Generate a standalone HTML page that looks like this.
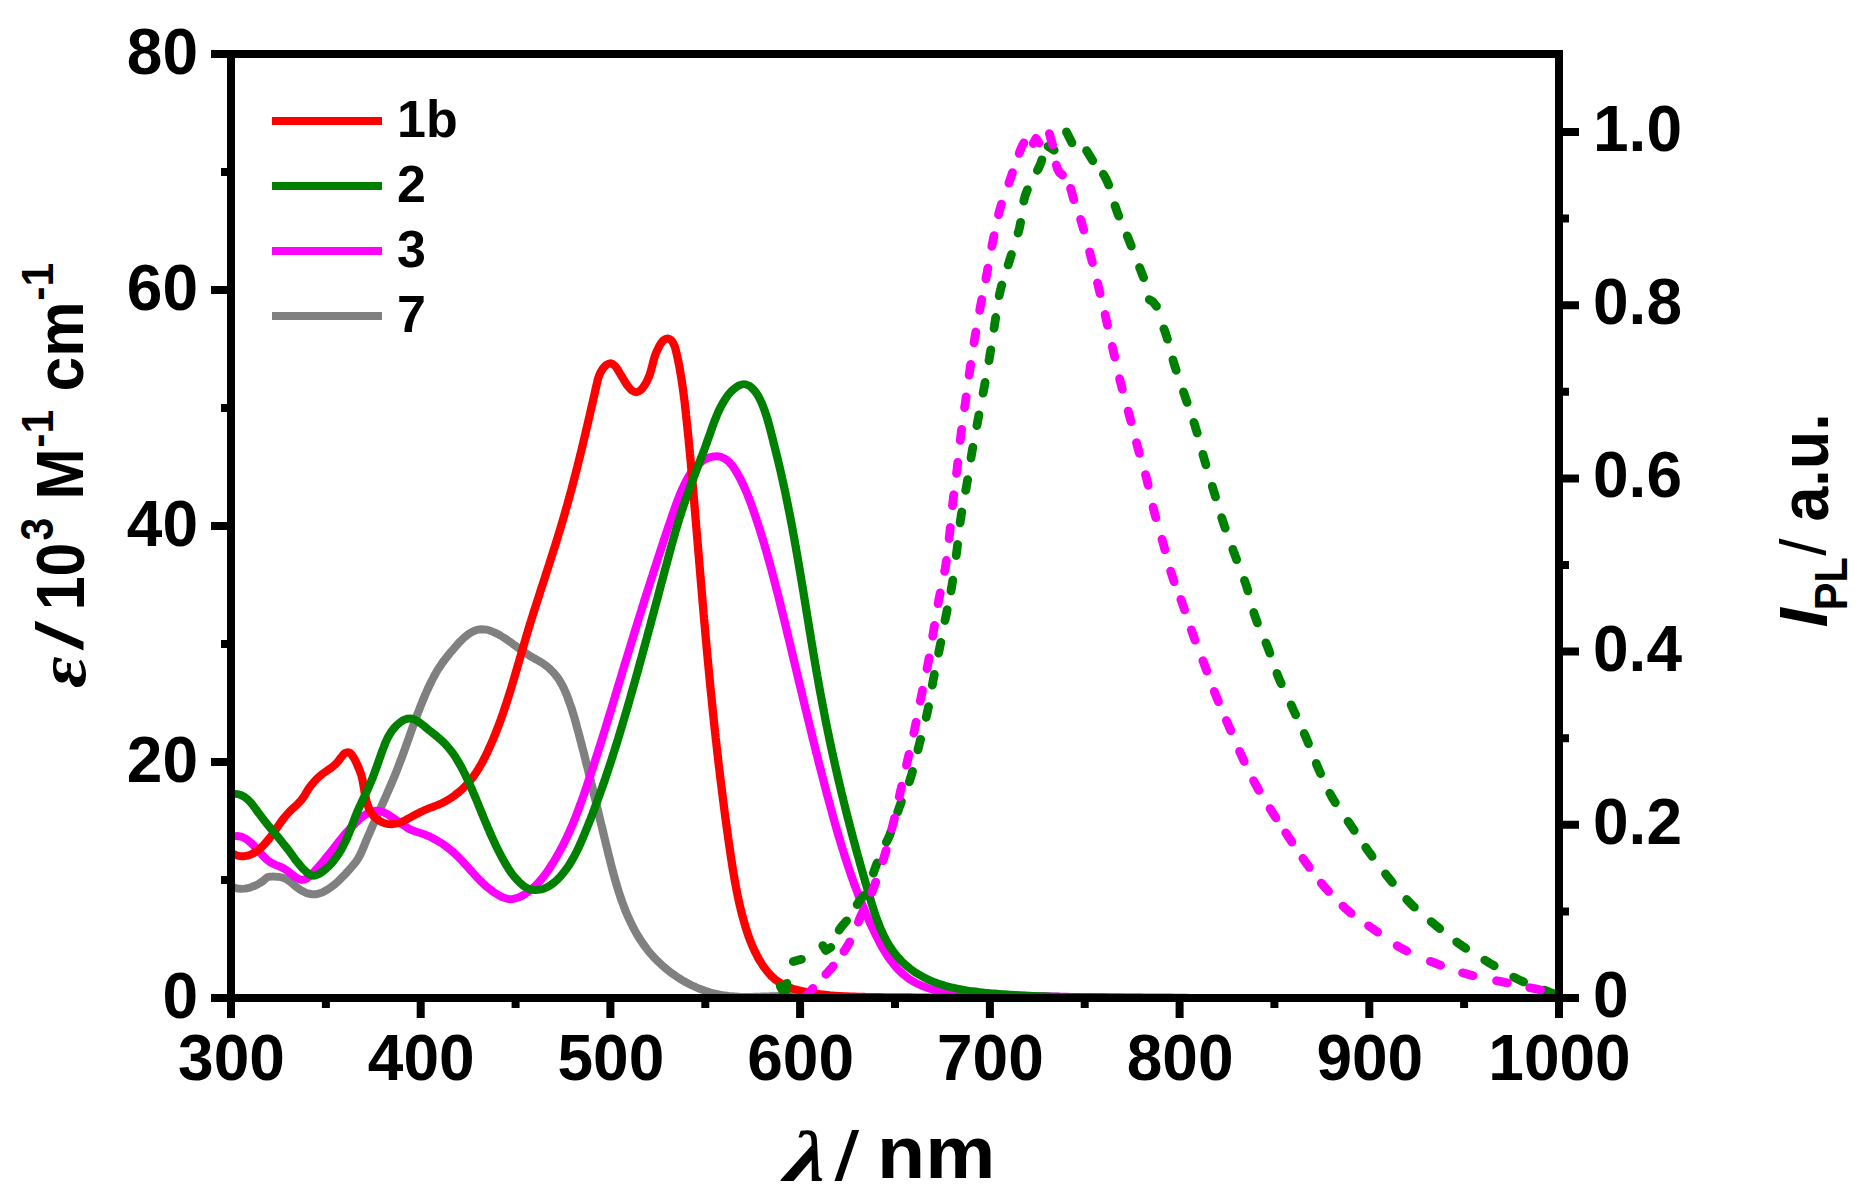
<!DOCTYPE html>
<html lang="en"><head><meta charset="utf-8"><title>Absorption and emission spectra</title>
<style>html,body{margin:0;padding:0;background:#fff}body{width:1864px;height:1203px;overflow:hidden}svg{display:block}text{font-family:"Liberation Sans",Arial,sans-serif;font-weight:bold;fill:#000}.gk{font-family:"Liberation Serif","DejaVu Serif",serif;font-style:italic;font-weight:bold}.it{font-style:italic}</style></head><body>
<svg width="1864" height="1203" viewBox="0 0 1864 1203">
<rect width="1864" height="1203" fill="#fff"/>
<defs><clipPath id="plotclip"><rect x="231" y="54" width="1328" height="944"/></clipPath></defs>
<g clip-path="url(#plotclip)"><g transform="scale(1.05 1)" fill="none" stroke-width="7.9" stroke-linejoin="miter" stroke-linecap="butt">
<path stroke="#808080" d="M220.0 886.0C220.7 886.3 222.9 887.5 224.4 888.0C225.9 888.5 227.5 888.7 229.1 888.8C230.7 888.9 232.3 888.8 233.8 888.5C235.4 888.3 237.0 887.9 238.5 887.4C240.0 886.9 241.5 886.3 242.9 885.6C244.4 884.9 245.8 884.1 247.2 883.2C248.5 882.4 249.9 881.4 251.1 880.4C252.4 879.4 253.4 877.9 254.8 877.2C256.2 876.6 257.9 876.5 259.5 876.5C261.0 876.4 262.6 876.6 264.2 876.8C265.8 877.0 267.4 877.1 268.9 877.6C270.5 878.0 272.0 878.7 273.3 879.5C274.7 880.3 275.9 881.4 277.2 882.5C278.4 883.5 279.6 884.7 280.8 885.7C282.1 886.8 283.3 887.9 284.6 888.8C285.9 889.8 287.2 890.7 288.7 891.4C290.1 892.2 291.5 892.9 293.1 893.4C294.6 893.8 296.2 894.2 297.7 894.3C299.3 894.3 300.9 894.2 302.5 893.8C304.0 893.5 305.6 892.9 307.0 892.3C308.5 891.6 309.9 890.8 311.3 889.9C312.6 889.1 313.9 888.1 315.2 887.2C316.5 886.2 317.8 885.2 319.0 884.1C320.2 883.0 321.4 881.9 322.6 880.7C323.7 879.6 324.9 878.4 326.0 877.2C327.1 876.0 328.2 874.8 329.3 873.6C330.3 872.4 331.4 871.1 332.5 869.9C333.5 868.6 334.6 867.4 335.6 866.1C336.7 864.8 337.7 863.6 338.7 862.2C339.6 860.9 340.5 859.5 341.3 858.1C342.2 856.6 342.9 855.1 343.6 853.6C344.2 852.1 344.8 850.6 345.5 849.0C346.1 847.5 346.7 845.9 347.3 844.4C347.9 842.8 348.5 841.3 349.1 839.8C349.7 838.2 350.4 836.7 351.0 835.1C351.6 833.6 352.3 832.1 352.9 830.6C353.5 829.0 354.2 827.5 354.8 826.0C355.5 824.4 356.1 822.9 356.8 821.4C357.4 819.9 358.1 818.3 358.7 816.8C359.4 815.3 360.0 813.8 360.7 812.2C361.3 810.7 362.0 809.2 362.7 807.7C363.3 806.1 364.0 804.6 364.6 803.1C365.3 801.6 365.9 800.0 366.6 798.5C367.2 797.0 367.9 795.4 368.5 793.9C369.1 792.4 369.8 790.9 370.4 789.3C371.0 787.8 371.7 786.2 372.3 784.7C372.9 783.2 373.6 781.6 374.2 780.1C374.8 778.5 375.4 777.0 376.0 775.5C376.6 773.9 377.2 772.4 377.8 770.8C378.4 769.3 379.0 767.7 379.5 766.1C380.1 764.6 380.7 763.0 381.2 761.4C381.8 759.9 382.4 758.3 382.9 756.7C383.5 755.2 384.0 753.6 384.6 752.0C385.1 750.5 385.6 748.9 386.2 747.3C386.7 745.7 387.3 744.2 387.8 742.6C388.3 741.0 388.9 739.4 389.4 737.9C389.9 736.3 390.5 734.7 391.0 733.1C391.5 731.6 392.1 730.0 392.6 728.4C393.1 726.8 393.7 725.3 394.2 723.7C394.8 722.1 395.3 720.6 395.9 719.0C396.4 717.4 397.0 715.9 397.5 714.3C398.1 712.7 398.7 711.2 399.3 709.6C399.8 708.0 400.4 706.5 401.0 704.9C401.6 703.4 402.2 701.8 402.8 700.3C403.4 698.7 404.0 697.2 404.6 695.7C405.3 694.1 405.9 692.6 406.5 691.1C407.2 689.5 407.8 688.0 408.5 686.5C409.2 685.0 409.9 683.5 410.6 682.0C411.3 680.5 412.0 679.0 412.8 677.5C413.5 676.0 414.3 674.6 415.1 673.1C415.9 671.7 416.7 670.2 417.5 668.8C418.4 667.4 419.3 666.0 420.2 664.6C421.1 663.2 422.0 661.9 422.9 660.5C423.9 659.2 424.9 657.9 425.9 656.6C426.8 655.3 427.9 654.0 428.9 652.7C429.9 651.4 430.9 650.1 432.0 648.9C433.0 647.6 434.0 646.3 435.1 645.1C436.2 643.8 437.2 642.6 438.3 641.4C439.5 640.2 440.6 639.0 441.8 637.9C443.0 636.8 444.2 635.7 445.4 634.7C446.7 633.7 448.1 632.7 449.5 632.0C450.9 631.2 452.3 630.5 453.9 630.0C455.4 629.6 457.0 629.3 458.6 629.2C460.1 629.2 461.7 629.4 463.3 629.7C464.9 630.0 466.4 630.6 467.9 631.1C469.4 631.7 470.8 632.4 472.3 633.1C473.7 633.8 475.1 634.7 476.5 635.5C477.8 636.3 479.2 637.2 480.5 638.1C481.9 639.1 483.2 640.0 484.5 640.9C485.8 641.9 487.1 642.9 488.4 643.9C489.7 644.8 490.9 645.8 492.2 646.8C493.5 647.8 494.8 648.8 496.1 649.8C497.4 650.8 498.7 651.7 500.0 652.7C501.3 653.6 502.7 654.5 504.0 655.4C505.4 656.3 506.7 657.1 508.1 657.9C509.5 658.8 510.9 659.6 512.3 660.4C513.7 661.3 515.0 662.1 516.4 663.0C517.7 663.9 519.0 664.9 520.3 665.9C521.6 666.9 522.8 668.0 523.9 669.1C525.1 670.2 526.2 671.5 527.3 672.7C528.3 674.0 529.3 675.3 530.3 676.6C531.2 677.9 532.1 679.3 533.0 680.7C533.8 682.1 534.6 683.6 535.4 685.1C536.1 686.5 536.8 688.0 537.5 689.6C538.2 691.1 538.8 692.6 539.4 694.2C540.0 695.7 540.6 697.3 541.1 698.8C541.7 700.4 542.2 702.0 542.7 703.6C543.3 705.1 543.8 706.7 544.3 708.3C544.8 709.9 545.2 711.5 545.7 713.1C546.2 714.7 546.6 716.3 547.1 717.9C547.5 719.5 547.9 721.1 548.4 722.7C548.8 724.4 549.2 726.0 549.6 727.6C550.0 729.2 550.5 730.8 550.9 732.4C551.3 734.0 551.7 735.7 552.1 737.3C552.5 738.9 552.9 740.5 553.3 742.1C553.7 743.7 554.1 745.4 554.5 747.0C554.9 748.6 555.3 750.2 555.7 751.8C556.1 753.5 556.5 755.1 556.9 756.7C557.3 758.3 557.7 759.9 558.0 761.6C558.4 763.2 558.8 764.8 559.2 766.4C559.6 768.1 560.0 769.7 560.4 771.3C560.7 772.9 561.1 774.6 561.5 776.2C561.9 777.8 562.3 779.4 562.6 781.0C563.0 782.7 563.4 784.3 563.8 785.9C564.2 787.5 564.5 789.2 564.9 790.8C565.3 792.4 565.7 794.0 566.0 795.7C566.4 797.3 566.8 798.9 567.2 800.5C567.5 802.2 567.9 803.8 568.3 805.4C568.6 807.1 569.0 808.7 569.4 810.3C569.8 811.9 570.1 813.6 570.5 815.2C570.9 816.8 571.3 818.4 571.6 820.1C572.0 821.7 572.4 823.3 572.7 824.9C573.1 826.6 573.5 828.2 573.9 829.8C574.2 831.4 574.6 833.1 575.0 834.7C575.4 836.3 575.7 837.9 576.1 839.6C576.5 841.2 576.9 842.8 577.2 844.4C577.6 846.1 578.0 847.7 578.4 849.3C578.7 850.9 579.1 852.6 579.5 854.2C579.9 855.8 580.3 857.4 580.7 859.1C581.0 860.7 581.4 862.3 581.8 863.9C582.2 865.5 582.6 867.2 583.0 868.8C583.4 870.4 583.8 872.0 584.2 873.6C584.7 875.2 585.1 876.9 585.5 878.5C585.9 880.1 586.4 881.7 586.8 883.3C587.3 884.9 587.7 886.5 588.2 888.1C588.7 889.7 589.1 891.3 589.6 892.9C590.1 894.5 590.6 896.1 591.1 897.6C591.6 899.2 592.2 900.8 592.7 902.4C593.3 903.9 593.8 905.5 594.4 907.1C595.0 908.6 595.5 910.2 596.1 911.7C596.7 913.3 597.4 914.8 598.0 916.4C598.6 917.9 599.3 919.4 600.0 920.9C600.7 922.4 601.4 923.9 602.1 925.4C602.8 926.9 603.5 928.4 604.3 929.9C605.0 931.4 605.8 932.8 606.6 934.3C607.4 935.7 608.3 937.1 609.1 938.5C610.0 940.0 610.8 941.3 611.7 942.7C612.6 944.1 613.6 945.5 614.5 946.8C615.5 948.2 616.4 949.5 617.4 950.8C618.4 952.1 619.4 953.4 620.5 954.6C621.5 955.9 622.6 957.1 623.7 958.3C624.8 959.6 625.9 960.7 627.1 961.9C628.2 963.1 629.4 964.2 630.6 965.3C631.7 966.5 633.0 967.5 634.2 968.6C635.4 969.7 636.7 970.7 637.9 971.7C639.2 972.8 640.5 973.7 641.8 974.7C643.1 975.7 644.4 976.6 645.7 977.5C647.1 978.4 648.4 979.3 649.8 980.2C651.1 981.0 652.5 981.9 653.9 982.6C655.3 983.4 656.7 984.2 658.2 985.0C659.6 985.7 661.1 986.4 662.5 987.1C664.0 987.7 665.4 988.4 666.9 989.0C668.4 989.6 669.9 990.2 671.4 990.7C672.9 991.3 674.4 991.8 676.0 992.3C677.5 992.7 679.0 993.2 680.6 993.5C682.1 993.9 683.7 994.3 685.2 994.6C686.8 994.9 688.4 995.2 689.9 995.4C691.5 995.7 693.1 995.9 694.7 996.1C696.3 996.2 697.9 996.4 699.5 996.5C701.0 996.6 702.6 996.7 704.2 996.8C705.8 996.8 707.4 996.9 709.0 996.9C710.6 996.9 712.2 996.9 713.8 996.9C715.4 996.9 717.0 996.8 718.6 996.8C720.1 996.8 721.7 996.7 723.3 996.6C724.9 996.6 726.5 996.5 728.1 996.5C729.7 996.4 731.3 996.3 732.9 996.3C734.5 996.2 736.1 996.1 737.7 996.1C739.2 996.0 740.8 995.9 742.4 995.9C744.0 995.9 745.6 995.8 747.2 995.8C748.8 995.8 750.4 995.7 752.0 995.7C753.6 995.7 755.2 995.7 756.8 995.7C758.4 995.7 759.9 995.7 761.5 995.7C763.1 995.8 764.7 995.8 766.3 995.8C767.9 995.8 769.5 995.9 771.1 995.9C772.7 996.0 774.3 996.0 775.9 996.1C777.5 996.1 779.1 996.2 780.6 996.2C782.2 996.3 783.8 996.3 785.4 996.4C787.0 996.5 788.6 996.5 790.2 996.6C791.8 996.7 793.4 996.8 795.0 996.8C796.6 996.9 798.1 997.0 799.7 997.1C801.3 997.1 802.9 997.2 804.5 997.3C806.1 997.4 807.7 997.5 809.3 997.6C810.9 997.6 812.5 997.7 814.1 997.8C815.6 997.9 817.2 998.0 818.8 998.1C820.4 998.2 822.0 998.2 823.6 998.3C825.2 998.4 826.8 998.5 828.4 998.6C830.0 998.6 831.6 998.7 833.1 998.8C834.7 998.9 836.3 998.9 837.9 999.0C839.5 999.1 841.1 999.1 842.7 999.2C844.3 999.2 845.9 999.3 847.5 999.3C849.1 999.4 850.7 999.4 852.2 999.5C853.8 999.5 855.4 999.6 857.0 999.6C858.6 999.6 860.2 999.6 861.8 999.7C863.4 999.7 865.0 999.7 866.6 999.7C868.2 999.7 869.8 999.7 871.4 999.7C872.9 999.7 874.5 999.7 876.1 999.6C877.7 999.6 879.3 999.6 880.9 999.5C882.5 999.5 884.1 999.4 885.7 999.3C887.3 999.3 888.9 999.2 890.5 999.1C892.0 999.0 893.6 998.9 895.2 998.8C896.8 998.7 898.4 998.6 900.0 998.4C901.6 998.3 904.0 998.1 904.7 998.0"/>
<path stroke="#ff00ff" d="M220.0 837.1C220.8 836.9 223.1 836.2 224.7 836.1C226.3 836.0 227.9 836.2 229.4 836.6C230.9 837.0 232.4 837.8 233.8 838.6C235.1 839.4 236.4 840.5 237.6 841.6C238.8 842.6 240.0 843.8 241.1 845.0C242.2 846.2 243.3 847.5 244.3 848.7C245.4 849.9 246.4 851.2 247.5 852.5C248.5 853.7 249.6 855.0 250.7 856.2C251.8 857.4 252.9 858.6 254.1 859.6C255.3 860.7 256.6 861.7 258.0 862.6C259.3 863.4 260.8 864.1 262.3 864.8C263.7 865.4 265.2 865.9 266.7 866.6C268.1 867.3 269.6 868.0 270.9 868.9C272.3 869.7 273.6 870.8 274.9 871.8C276.1 872.7 277.3 873.8 278.6 874.9C279.9 875.9 281.1 877.0 282.4 877.8C283.8 878.7 285.3 879.7 286.8 879.8C288.3 880.0 290.0 879.6 291.4 878.9C292.7 878.3 293.9 876.9 295.1 875.8C296.3 874.7 297.4 873.5 298.5 872.3C299.6 871.1 300.7 869.9 301.8 868.7C302.8 867.4 303.9 866.2 304.9 864.9C306.0 863.7 307.0 862.4 308.0 861.1C309.0 859.8 310.0 858.5 311.0 857.2C312.0 855.9 313.0 854.6 314.0 853.3C315.0 852.0 316.0 850.7 317.0 849.4C317.9 848.1 318.9 846.7 319.9 845.4C320.9 844.1 321.9 842.8 322.9 841.5C323.9 840.2 324.9 838.9 325.9 837.6C326.9 836.3 327.9 835.0 328.9 833.8C330.0 832.5 331.0 831.3 332.1 830.0C333.2 828.8 334.2 827.6 335.4 826.4C336.5 825.2 337.6 824.0 338.7 822.8C339.9 821.7 341.0 820.5 342.2 819.4C343.4 818.3 344.6 817.2 345.9 816.2C347.2 815.2 348.5 814.3 349.9 813.5C351.3 812.7 352.7 811.9 354.2 811.4C355.7 811.0 357.4 810.6 358.9 810.7C360.5 810.7 362.1 811.1 363.6 811.5C365.1 812.0 366.5 812.8 367.9 813.6C369.3 814.4 370.7 815.3 372.0 816.2C373.3 817.1 374.6 818.1 375.9 819.1C377.2 820.0 378.5 821.0 379.8 822.0C381.1 823.0 382.4 824.0 383.7 824.9C385.0 825.8 386.3 826.8 387.7 827.6C389.1 828.5 390.5 829.3 391.9 830.0C393.4 830.6 394.9 831.2 396.4 831.7C397.9 832.3 399.4 832.7 400.9 833.2C402.4 833.8 403.9 834.3 405.4 834.9C406.9 835.6 408.3 836.2 409.8 836.9C411.2 837.7 412.6 838.4 414.0 839.2C415.4 840.0 416.8 840.8 418.2 841.7C419.5 842.6 420.9 843.5 422.2 844.4C423.5 845.4 424.8 846.4 426.0 847.4C427.3 848.4 428.6 849.4 429.8 850.5C431.0 851.6 432.2 852.7 433.3 853.8C434.5 855.0 435.6 856.1 436.8 857.3C437.9 858.5 439.0 859.7 440.1 860.9C441.2 862.1 442.2 863.4 443.3 864.6C444.4 865.8 445.5 867.1 446.5 868.3C447.6 869.5 448.6 870.8 449.7 872.0C450.8 873.3 451.8 874.5 452.9 875.7C454.0 877.0 455.1 878.2 456.2 879.4C457.3 880.6 458.5 881.7 459.6 882.9C460.8 884.0 461.9 885.2 463.1 886.3C464.3 887.4 465.6 888.4 466.8 889.4C468.1 890.5 469.4 891.5 470.7 892.4C472.0 893.3 473.3 894.3 474.7 895.1C476.1 895.9 477.5 896.7 478.9 897.4C480.4 898.0 481.9 898.6 483.5 898.9C485.0 899.2 486.7 899.3 488.2 899.1C489.8 898.9 491.3 898.3 492.8 897.8C494.3 897.2 495.8 896.5 497.2 895.7C498.6 894.9 499.9 894.1 501.3 893.2C502.6 892.2 503.9 891.2 505.1 890.2C506.4 889.2 507.6 888.1 508.7 886.9C509.9 885.8 511.0 884.6 512.1 883.4C513.2 882.2 514.2 880.9 515.3 879.6C516.3 878.4 517.3 877.0 518.2 875.7C519.2 874.4 520.2 873.0 521.1 871.7C522.0 870.3 522.9 868.9 523.8 867.5C524.6 866.2 525.5 864.7 526.3 863.3C527.2 861.9 528.0 860.5 528.8 859.1C529.7 857.6 530.5 856.2 531.2 854.7C532.0 853.3 532.8 851.8 533.5 850.3C534.3 848.9 535.0 847.4 535.8 845.9C536.5 844.4 537.2 842.9 537.9 841.4C538.6 839.9 539.3 838.4 540.0 836.9C540.7 835.4 541.3 833.9 542.0 832.4C542.6 830.9 543.3 829.3 543.9 827.8C544.5 826.3 545.2 824.7 545.8 823.2C546.4 821.6 547.0 820.1 547.6 818.5C548.2 817.0 548.7 815.4 549.3 813.9C549.9 812.3 550.5 810.8 551.0 809.2C551.6 807.6 552.1 806.1 552.7 804.5C553.2 802.9 553.8 801.4 554.3 799.8C554.8 798.2 555.3 796.6 555.9 795.1C556.4 793.5 556.9 791.9 557.4 790.3C557.9 788.7 558.5 787.2 559.0 785.6C559.5 784.0 560.0 782.4 560.5 780.8C561.0 779.3 561.5 777.7 562.0 776.1C562.5 774.5 563.0 772.9 563.5 771.3C564.0 769.7 564.5 768.2 565.0 766.6C565.5 765.0 566.0 763.4 566.4 761.8C566.9 760.2 567.4 758.6 567.9 757.0C568.4 755.4 568.9 753.8 569.4 752.3C569.8 750.7 570.3 749.1 570.8 747.5C571.3 745.9 571.8 744.3 572.2 742.7C572.7 741.1 573.2 739.5 573.7 737.9C574.1 736.3 574.6 734.7 575.1 733.1C575.6 731.5 576.0 729.9 576.5 728.4C577.0 726.8 577.4 725.2 577.9 723.6C578.4 722.0 578.8 720.4 579.3 718.8C579.8 717.2 580.2 715.6 580.7 714.0C581.2 712.4 581.6 710.8 582.1 709.2C582.6 707.6 583.0 706.0 583.5 704.4C583.9 702.8 584.4 701.2 584.9 699.6C585.3 698.0 585.8 696.4 586.2 694.8C586.7 693.2 587.2 691.6 587.6 690.0C588.1 688.4 588.5 686.8 589.0 685.2C589.5 683.6 589.9 682.0 590.4 680.4C590.8 678.8 591.3 677.2 591.8 675.6C592.2 674.0 592.7 672.4 593.1 670.8C593.6 669.2 594.1 667.6 594.5 666.0C595.0 664.4 595.4 662.8 595.9 661.2C596.4 659.6 596.8 658.0 597.3 656.4C597.8 654.9 598.2 653.3 598.7 651.7C599.1 650.1 599.6 648.5 600.1 646.9C600.5 645.3 601.0 643.7 601.5 642.1C601.9 640.5 602.4 638.9 602.9 637.3C603.3 635.7 603.8 634.1 604.3 632.5C604.7 630.9 605.2 629.3 605.7 627.7C606.1 626.1 606.6 624.5 607.1 622.9C607.6 621.3 608.0 619.7 608.5 618.1C609.0 616.5 609.4 614.9 609.9 613.4C610.4 611.8 610.9 610.2 611.3 608.6C611.8 607.0 612.3 605.4 612.8 603.8C613.3 602.2 613.7 600.6 614.2 599.0C614.7 597.4 615.2 595.8 615.6 594.2C616.1 592.6 616.6 591.1 617.1 589.5C617.6 587.9 618.1 586.3 618.5 584.7C619.0 583.1 619.5 581.5 620.0 579.9C620.5 578.3 621.0 576.7 621.5 575.1C621.9 573.6 622.4 572.0 622.9 570.4C623.4 568.8 623.9 567.2 624.4 565.6C624.9 564.0 625.4 562.4 625.9 560.8C626.4 559.3 626.8 557.7 627.3 556.1C627.8 554.5 628.3 552.9 628.8 551.3C629.3 549.7 629.8 548.2 630.3 546.6C630.8 545.0 631.3 543.4 631.8 541.8C632.3 540.2 632.8 538.6 633.3 537.1C633.8 535.5 634.3 533.9 634.8 532.3C635.3 530.7 635.8 529.1 636.3 527.6C636.8 526.0 637.3 524.4 637.9 522.8C638.4 521.2 638.9 519.6 639.4 518.1C639.9 516.5 640.4 514.9 640.9 513.3C641.4 511.7 642.0 510.2 642.5 508.6C643.0 507.0 643.6 505.4 644.1 503.9C644.7 502.3 645.2 500.7 645.8 499.2C646.4 497.6 647.0 496.1 647.6 494.5C648.2 493.0 648.8 491.5 649.5 489.9C650.1 488.4 650.8 486.9 651.4 485.4C652.1 483.9 652.8 482.4 653.6 480.9C654.3 479.4 655.1 477.9 655.9 476.5C656.7 475.1 657.5 473.7 658.4 472.3C659.4 470.9 660.3 469.6 661.3 468.3C662.4 467.0 663.4 465.8 664.6 464.7C665.8 463.5 667.0 462.5 668.3 461.5C669.6 460.5 671.0 459.7 672.4 458.9C673.8 458.2 675.3 457.5 676.8 457.1C678.3 456.7 679.9 456.3 681.5 456.3C683.1 456.2 684.7 456.3 686.2 456.7C687.8 457.2 689.3 457.9 690.6 458.8C691.9 459.6 693.1 460.8 694.3 461.9C695.4 463.1 696.4 464.4 697.4 465.7C698.4 467.0 699.3 468.4 700.1 469.8C701.0 471.2 701.8 472.7 702.6 474.1C703.4 475.6 704.1 477.1 704.9 478.5C705.6 480.0 706.3 481.5 707.0 483.0C707.7 484.5 708.4 486.0 709.0 487.5C709.7 489.1 710.3 490.6 710.9 492.1C711.5 493.7 712.1 495.2 712.7 496.8C713.3 498.3 713.9 499.9 714.4 501.4C715.0 503.0 715.5 504.6 716.1 506.2C716.6 507.7 717.1 509.3 717.7 510.9C718.2 512.5 718.7 514.0 719.2 515.6C719.7 517.2 720.2 518.8 720.7 520.4C721.2 521.9 721.7 523.5 722.2 525.1C722.7 526.7 723.2 528.3 723.7 529.9C724.2 531.5 724.6 533.1 725.1 534.7C725.6 536.3 726.0 537.9 726.5 539.5C727.0 541.1 727.4 542.7 727.9 544.3C728.3 545.9 728.8 547.5 729.2 549.1C729.7 550.7 730.1 552.3 730.5 553.9C731.0 555.5 731.4 557.1 731.8 558.7C732.3 560.3 732.7 561.9 733.1 563.5C733.5 565.1 734.0 566.8 734.4 568.4C734.8 570.0 735.2 571.6 735.6 573.2C736.0 574.8 736.4 576.4 736.8 578.0C737.2 579.7 737.6 581.3 738.0 582.9C738.4 584.5 738.8 586.1 739.2 587.7C739.6 589.4 740.0 591.0 740.4 592.6C740.8 594.2 741.2 595.8 741.6 597.5C742.0 599.1 742.4 600.7 742.7 602.3C743.1 603.9 743.5 605.6 743.9 607.2C744.3 608.8 744.6 610.4 745.0 612.0C745.4 613.7 745.8 615.3 746.2 616.9C746.5 618.5 746.9 620.2 747.3 621.8C747.7 623.4 748.0 625.0 748.4 626.6C748.8 628.3 749.1 629.9 749.5 631.5C749.9 633.1 750.3 634.8 750.6 636.4C751.0 638.0 751.4 639.6 751.8 641.3C752.1 642.9 752.5 644.5 752.9 646.1C753.2 647.8 753.6 649.4 754.0 651.0C754.4 652.6 754.7 654.3 755.1 655.9C755.5 657.5 755.8 659.1 756.2 660.7C756.6 662.4 756.9 664.0 757.3 665.6C757.7 667.2 758.1 668.9 758.4 670.5C758.8 672.1 759.2 673.7 759.5 675.4C759.9 677.0 760.3 678.6 760.6 680.2C761.0 681.9 761.4 683.5 761.8 685.1C762.1 686.7 762.5 688.4 762.9 690.0C763.2 691.6 763.6 693.2 764.0 694.9C764.4 696.5 764.7 698.1 765.1 699.7C765.5 701.3 765.8 703.0 766.2 704.6C766.6 706.2 767.0 707.8 767.3 709.5C767.7 711.1 768.1 712.7 768.5 714.3C768.8 716.0 769.2 717.6 769.6 719.2C770.0 720.8 770.3 722.4 770.7 724.1C771.1 725.7 771.5 727.3 771.9 728.9C772.2 730.6 772.6 732.2 773.0 733.8C773.4 735.4 773.8 737.0 774.1 738.7C774.5 740.3 774.9 741.9 775.3 743.5C775.7 745.1 776.1 746.8 776.4 748.4C776.8 750.0 777.2 751.6 777.6 753.2C778.0 754.9 778.4 756.5 778.8 758.1C779.2 759.7 779.5 761.3 779.9 763.0C780.3 764.6 780.7 766.2 781.1 767.8C781.5 769.4 781.9 771.0 782.3 772.7C782.7 774.3 783.1 775.9 783.5 777.5C783.9 779.1 784.3 780.7 784.7 782.4C785.1 784.0 785.5 785.6 785.9 787.2C786.3 788.8 786.7 790.4 787.1 792.1C787.5 793.7 787.9 795.3 788.3 796.9C788.8 798.5 789.2 800.1 789.6 801.7C790.0 803.3 790.4 805.0 790.8 806.6C791.2 808.2 791.7 809.8 792.1 811.4C792.5 813.0 792.9 814.6 793.3 816.2C793.8 817.8 794.2 819.5 794.6 821.1C795.1 822.7 795.5 824.3 795.9 825.9C796.4 827.5 796.8 829.1 797.2 830.7C797.7 832.3 798.1 833.9 798.6 835.5C799.0 837.1 799.5 838.7 799.9 840.3C800.4 841.9 800.8 843.5 801.3 845.1C801.8 846.7 802.2 848.3 802.7 849.9C803.2 851.5 803.7 853.1 804.1 854.7C804.6 856.3 805.1 857.9 805.6 859.4C806.1 861.0 806.6 862.6 807.1 864.2C807.6 865.8 808.1 867.4 808.6 869.0C809.1 870.5 809.6 872.1 810.1 873.7C810.6 875.3 811.2 876.9 811.7 878.4C812.2 880.0 812.8 881.6 813.3 883.2C813.8 884.7 814.4 886.3 815.0 887.9C815.5 889.4 816.1 891.0 816.6 892.5C817.2 894.1 817.8 895.7 818.4 897.2C818.9 898.8 819.5 900.3 820.1 901.9C820.7 903.4 821.3 905.0 821.9 906.5C822.5 908.1 823.1 909.6 823.8 911.1C824.4 912.7 825.0 914.2 825.6 915.7C826.3 917.3 826.9 918.8 827.6 920.3C828.2 921.8 828.9 923.4 829.5 924.9C830.2 926.4 830.9 927.9 831.6 929.4C832.2 930.9 832.9 932.4 833.6 933.9C834.3 935.4 835.0 936.9 835.8 938.4C836.5 939.9 837.2 941.4 838.0 942.9C838.7 944.3 839.5 945.8 840.2 947.3C841.0 948.7 841.8 950.2 842.7 951.6C843.5 953.0 844.3 954.4 845.2 955.8C846.1 957.2 847.0 958.6 847.9 959.9C848.9 961.3 849.8 962.6 850.8 963.9C851.8 965.2 852.8 966.5 853.9 967.7C855.0 969.0 856.1 970.2 857.2 971.4C858.3 972.5 859.5 973.7 860.7 974.7C861.9 975.8 863.2 976.9 864.5 977.9C865.7 978.8 867.1 979.8 868.4 980.6C869.8 981.5 871.2 982.3 872.6 983.1C874.0 983.9 875.4 984.6 876.9 985.2C878.3 985.9 879.8 986.5 881.3 987.1C882.8 987.7 884.3 988.2 885.8 988.7C887.3 989.2 888.9 989.6 890.4 990.1C892.0 990.5 893.5 990.9 895.1 991.2C896.6 991.6 898.2 991.9 899.7 992.2C901.3 992.5 902.9 992.8 904.4 993.1C906.0 993.3 907.6 993.5 909.2 993.7C910.7 993.9 912.3 994.1 913.9 994.3C915.5 994.5 917.1 994.6 918.7 994.7C920.2 994.9 921.8 995.0 923.4 995.0C925.0 995.1 926.6 995.2 928.2 995.3C929.8 995.3 931.4 995.4 933.0 995.4C934.5 995.5 936.1 995.5 937.7 995.5C939.3 995.5 940.9 995.5 942.5 995.5C944.1 995.6 945.7 995.6 947.3 995.6C948.9 995.6 950.5 995.6 952.0 995.6C953.6 995.6 955.2 995.6 956.8 995.6C958.4 995.6 960.0 995.6 961.6 995.6C963.2 995.7 964.8 995.7 966.4 995.7C967.9 995.7 969.5 995.7 971.1 995.8C972.7 995.8 974.3 995.8 975.9 995.8C977.5 995.9 979.1 995.9 980.7 995.9C982.3 996.0 983.8 996.0 985.4 996.0C987.0 996.1 988.6 996.1 990.2 996.1C991.8 996.2 993.4 996.2 995.0 996.2C996.6 996.3 998.2 996.3 999.7 996.4C1001.3 996.4 1002.9 996.4 1004.5 996.5C1006.1 996.5 1007.7 996.6 1009.3 996.6C1010.9 996.6 1012.5 996.7 1014.1 996.7C1015.6 996.8 1017.2 996.8 1018.8 996.9C1020.4 996.9 1022.0 996.9 1023.6 997.0C1025.2 997.0 1026.8 997.1 1028.4 997.1C1030.0 997.2 1031.5 997.2 1033.1 997.3C1034.7 997.3 1036.3 997.3 1037.9 997.4C1039.5 997.4 1041.1 997.5 1042.7 997.5C1044.3 997.6 1045.9 997.6 1047.4 997.6C1049.0 997.7 1050.6 997.7 1052.2 997.8C1053.8 997.8 1055.4 997.8 1057.0 997.9C1058.6 997.9 1060.2 997.9 1061.8 998.0C1063.3 998.0 1064.9 998.1 1066.5 998.1C1068.1 998.1 1069.7 998.2 1071.3 998.2C1072.9 998.2 1074.5 998.2 1076.1 998.3C1077.7 998.3 1079.2 998.3 1080.8 998.3C1082.4 998.4 1084.0 998.4 1085.6 998.4C1087.2 998.4 1088.8 998.5 1090.4 998.5C1092.0 998.5 1093.6 998.5 1095.2 998.5C1096.7 998.5 1098.3 998.5 1099.9 998.5C1101.5 998.5 1103.1 998.5 1104.7 998.6C1106.3 998.6 1107.9 998.6 1109.5 998.5C1111.1 998.5 1112.6 998.5 1114.2 998.5C1115.8 998.5 1117.4 998.5 1119.0 998.5C1120.6 998.5 1122.2 998.5 1123.8 998.4C1125.4 998.4 1127.0 998.4 1128.5 998.4C1130.1 998.3 1131.7 998.3 1133.3 998.3C1134.9 998.2 1136.5 998.2 1138.1 998.1C1139.7 998.1 1142.1 998.0 1142.9 998.0"/>
<path stroke="#ff0000" d="M220.0 852.3C220.6 852.8 222.7 854.1 224.1 854.8C225.6 855.4 227.1 855.9 228.7 856.1C230.2 856.3 231.9 856.3 233.4 856.1C235.0 855.9 236.6 855.5 238.0 854.9C239.5 854.3 240.9 853.5 242.3 852.7C243.7 851.8 245.0 850.8 246.2 849.8C247.4 848.8 248.6 847.6 249.8 846.5C250.9 845.3 252.0 844.1 253.0 842.9C254.1 841.6 255.1 840.3 256.1 839.0C257.1 837.7 258.0 836.4 259.0 835.0C259.9 833.7 260.8 832.3 261.7 830.9C262.6 829.6 263.5 828.2 264.4 826.8C265.3 825.4 266.2 824.0 267.1 822.7C268.0 821.3 269.0 820.0 269.9 818.7C270.9 817.4 271.9 816.1 273.0 814.8C274.0 813.6 275.1 812.3 276.2 811.1C277.3 810.0 278.5 808.8 279.7 807.7C280.8 806.6 282.1 805.5 283.2 804.3C284.3 803.2 285.5 802.0 286.5 800.7C287.5 799.5 288.4 798.1 289.3 796.7C290.2 795.3 290.9 793.8 291.8 792.4C292.6 791.0 293.4 789.6 294.3 788.2C295.2 786.8 296.2 785.5 297.2 784.2C298.2 782.9 299.2 781.6 300.3 780.4C301.4 779.2 302.5 778.0 303.7 776.9C304.9 775.8 306.1 774.7 307.4 773.7C308.6 772.7 309.9 771.8 311.2 770.8C312.5 769.9 313.9 769.0 315.2 768.0C316.4 766.9 317.7 765.9 318.9 764.8C320.0 763.7 321.1 762.4 322.1 761.2C323.1 759.9 324.1 758.5 325.1 757.2C326.1 755.9 326.9 754.2 328.1 753.4C329.3 752.6 331.1 751.9 332.4 752.4C333.7 752.8 334.8 754.5 335.7 755.8C336.7 757.1 337.4 758.7 338.2 760.1C338.9 761.6 339.6 763.1 340.2 764.6C340.9 766.2 341.5 767.7 342.1 769.2C342.7 770.8 343.3 772.4 343.7 773.9C344.2 775.5 344.6 777.1 345.0 778.8C345.4 780.4 345.6 782.0 345.9 783.7C346.2 785.3 346.5 787.0 346.7 788.6C347.0 790.2 347.2 791.9 347.5 793.5C347.8 795.2 348.1 796.8 348.4 798.4C348.8 800.1 349.1 801.7 349.6 803.3C350.1 804.9 350.6 806.5 351.2 808.0C351.8 809.5 352.5 811.1 353.3 812.5C354.1 813.9 355.1 815.3 356.2 816.5C357.2 817.7 358.5 818.8 359.7 819.8C361.0 820.7 362.4 821.6 363.9 822.2C365.3 822.9 366.9 823.4 368.4 823.8C370.0 824.1 371.6 824.3 373.1 824.2C374.7 824.2 376.3 823.9 377.8 823.5C379.4 823.1 380.9 822.5 382.4 821.9C383.8 821.3 385.2 820.5 386.7 819.8C388.1 819.0 389.5 818.2 390.9 817.4C392.3 816.6 393.6 815.8 395.0 815.0C396.4 814.2 397.9 813.5 399.3 812.7C400.7 812.0 402.1 811.2 403.6 810.5C405.0 809.8 406.5 809.2 407.9 808.5C409.4 807.9 410.9 807.4 412.4 806.8C413.9 806.2 415.4 805.7 416.9 805.0C418.3 804.4 419.8 803.7 421.2 803.0C422.6 802.2 424.0 801.5 425.4 800.6C426.8 799.8 428.1 798.9 429.5 798.0C430.8 797.1 432.1 796.1 433.4 795.1C434.6 794.1 435.9 793.1 437.1 792.0C438.3 791.0 439.5 789.9 440.7 788.7C441.8 787.6 442.9 786.4 444.0 785.2C445.1 784.0 446.2 782.7 447.2 781.4C448.2 780.2 449.2 778.8 450.1 777.5C451.1 776.2 452.0 774.8 452.9 773.4C453.8 772.1 454.7 770.7 455.5 769.2C456.3 767.8 457.1 766.4 457.9 764.9C458.7 763.5 459.5 762.0 460.2 760.5C460.9 759.1 461.6 757.6 462.4 756.1C463.1 754.6 463.7 753.1 464.4 751.6C465.1 750.1 465.7 748.5 466.4 747.0C467.1 745.5 467.7 744.0 468.3 742.4C469.0 740.9 469.6 739.4 470.2 737.8C470.8 736.3 471.4 734.7 472.0 733.2C472.6 731.7 473.2 730.1 473.7 728.5C474.3 727.0 474.9 725.4 475.4 723.9C476.0 722.3 476.5 720.7 477.1 719.2C477.6 717.6 478.1 716.0 478.7 714.5C479.2 712.9 479.7 711.3 480.2 709.7C480.7 708.2 481.2 706.6 481.7 705.0C482.2 703.4 482.7 701.8 483.2 700.2C483.7 698.6 484.2 697.1 484.6 695.5C485.1 693.9 485.6 692.3 486.1 690.7C486.5 689.1 487.0 687.5 487.5 685.9C487.9 684.3 488.4 682.7 488.8 681.1C489.3 679.5 489.7 677.9 490.2 676.3C490.6 674.7 491.1 673.1 491.5 671.5C492.0 669.9 492.4 668.3 492.8 666.7C493.3 665.1 493.7 663.5 494.2 661.9C494.6 660.3 495.0 658.7 495.5 657.1C495.9 655.5 496.4 653.9 496.8 652.3C497.2 650.7 497.7 649.1 498.1 647.5C498.6 645.9 499.0 644.3 499.5 642.7C499.9 641.1 500.4 639.5 500.8 637.9C501.3 636.3 501.7 634.7 502.2 633.1C502.6 631.5 503.1 629.9 503.5 628.3C504.0 626.7 504.5 625.1 504.9 623.5C505.4 621.9 505.9 620.3 506.3 618.7C506.8 617.1 507.3 615.6 507.8 614.0C508.2 612.4 508.7 610.8 509.2 609.2C509.7 607.6 510.2 606.0 510.7 604.4C511.1 602.8 511.6 601.2 512.1 599.7C512.6 598.1 513.1 596.5 513.6 594.9C514.1 593.3 514.5 591.7 515.0 590.1C515.5 588.6 516.0 587.0 516.5 585.4C517.0 583.8 517.5 582.2 518.0 580.6C518.5 579.0 519.0 577.4 519.4 575.9C519.9 574.3 520.4 572.7 520.9 571.1C521.4 569.5 521.9 567.9 522.4 566.3C522.9 564.8 523.4 563.2 523.8 561.6C524.3 560.0 524.8 558.4 525.3 556.8C525.8 555.2 526.3 553.6 526.7 552.0C527.2 550.5 527.7 548.9 528.2 547.3C528.7 545.7 529.1 544.1 529.6 542.5C530.1 540.9 530.5 539.3 531.0 537.7C531.5 536.1 531.9 534.5 532.4 532.9C532.9 531.3 533.3 529.8 533.8 528.2C534.2 526.6 534.7 525.0 535.1 523.4C535.6 521.8 536.0 520.2 536.5 518.6C536.9 517.0 537.4 515.4 537.8 513.8C538.3 512.2 538.7 510.5 539.1 508.9C539.6 507.3 540.0 505.7 540.4 504.1C540.8 502.5 541.3 500.9 541.7 499.3C542.1 497.7 542.5 496.1 542.9 494.5C543.3 492.9 543.8 491.3 544.2 489.7C544.6 488.0 545.0 486.4 545.4 484.8C545.8 483.2 546.2 481.6 546.6 480.0C547.0 478.4 547.4 476.7 547.8 475.1C548.2 473.5 548.6 471.9 549.0 470.3C549.4 468.7 549.8 467.1 550.2 465.4C550.5 463.8 550.9 462.2 551.3 460.6C551.7 459.0 552.1 457.3 552.5 455.7C552.8 454.1 553.2 452.5 553.6 450.9C554.0 449.2 554.3 447.6 554.7 446.0C555.1 444.4 555.5 442.8 555.8 441.1C556.2 439.5 556.6 437.9 556.9 436.3C557.3 434.7 557.7 433.0 558.0 431.4C558.4 429.8 558.7 428.2 559.1 426.5C559.5 424.9 559.8 423.3 560.2 421.7C560.5 420.0 560.9 418.4 561.3 416.8C561.6 415.2 562.0 413.5 562.3 411.9C562.7 410.3 563.0 408.7 563.4 407.0C563.7 405.4 564.1 403.8 564.5 402.2C564.8 400.5 565.2 398.9 565.5 397.3C565.9 395.7 566.2 394.0 566.6 392.4C566.9 390.8 567.2 389.1 567.6 387.5C567.9 385.9 568.3 384.3 568.7 382.6C569.0 381.0 569.4 379.4 569.9 377.8C570.4 376.2 570.9 374.6 571.6 373.1C572.3 371.7 573.1 370.2 574.0 368.8C574.9 367.5 576.0 366.1 577.2 365.1C578.5 364.2 580.1 363.2 581.5 363.3C582.9 363.4 584.3 364.8 585.5 365.8C586.6 366.9 587.5 368.5 588.4 369.8C589.3 371.2 590.0 372.7 590.8 374.1C591.7 375.5 592.5 377.0 593.3 378.4C594.1 379.8 594.9 381.3 595.8 382.7C596.6 384.1 597.5 385.5 598.5 386.8C599.5 388.0 600.5 389.5 601.8 390.4C603.0 391.3 604.7 392.3 606.1 392.2C607.5 392.1 609.1 391.0 610.3 390.0C611.5 388.9 612.4 387.5 613.3 386.1C614.2 384.8 615.0 383.3 615.8 381.8C616.5 380.4 617.2 378.8 617.8 377.3C618.4 375.8 618.9 374.2 619.4 372.6C619.9 371.0 620.3 369.4 620.7 367.8C621.1 366.2 621.5 364.6 621.9 362.9C622.3 361.3 622.7 359.7 623.1 358.1C623.6 356.5 624.1 354.9 624.6 353.4C625.2 351.8 625.9 350.3 626.6 348.8C627.3 347.3 628.0 345.8 628.9 344.4C629.8 343.0 630.6 341.4 631.7 340.4C632.9 339.4 634.6 338.3 635.9 338.4C637.3 338.5 638.8 339.8 639.9 341.0C640.9 342.2 641.5 343.8 642.2 345.4C642.8 346.9 643.2 348.5 643.6 350.1C644.0 351.7 644.3 353.4 644.7 355.0C645.1 356.6 645.4 358.2 645.7 359.9C646.0 361.5 646.4 363.1 646.7 364.8C647.0 366.4 647.3 368.1 647.5 369.7C647.8 371.3 648.1 373.0 648.3 374.6C648.6 376.3 648.9 377.9 649.1 379.6C649.3 381.2 649.6 382.9 649.8 384.5C650.0 386.2 650.3 387.8 650.5 389.5C650.7 391.1 650.9 392.8 651.1 394.4C651.3 396.1 651.5 397.7 651.7 399.4C651.9 401.0 652.1 402.7 652.3 404.4C652.4 406.0 652.6 407.7 652.8 409.3C653.0 411.0 653.2 412.6 653.3 414.3C653.5 416.0 653.7 417.6 653.8 419.3C654.0 420.9 654.2 422.6 654.3 424.3C654.5 425.9 654.7 427.6 654.8 429.2C655.0 430.9 655.1 432.5 655.3 434.2C655.5 435.9 655.6 437.5 655.8 439.2C655.9 440.8 656.1 442.5 656.2 444.2C656.4 445.8 656.5 447.5 656.7 449.1C656.8 450.8 657.0 452.5 657.1 454.1C657.3 455.8 657.4 457.4 657.6 459.1C657.7 460.8 657.9 462.4 658.0 464.1C658.1 465.7 658.3 467.4 658.4 469.1C658.6 470.7 658.7 472.4 658.8 474.1C659.0 475.7 659.1 477.4 659.3 479.0C659.4 480.7 659.5 482.4 659.7 484.0C659.8 485.7 659.9 487.3 660.1 489.0C660.2 490.7 660.4 492.3 660.5 494.0C660.6 495.7 660.8 497.3 660.9 499.0C661.0 500.6 661.2 502.3 661.3 504.0C661.4 505.6 661.6 507.3 661.7 508.9C661.8 510.6 662.0 512.3 662.1 513.9C662.2 515.6 662.4 517.3 662.5 518.9C662.6 520.6 662.8 522.2 662.9 523.9C663.0 525.6 663.2 527.2 663.3 528.9C663.4 530.5 663.6 532.2 663.7 533.9C663.8 535.5 664.0 537.2 664.1 538.9C664.2 540.5 664.4 542.2 664.5 543.8C664.6 545.5 664.8 547.2 664.9 548.8C665.0 550.5 665.2 552.1 665.3 553.8C665.4 555.5 665.5 557.1 665.7 558.8C665.8 560.5 665.9 562.1 666.1 563.8C666.2 565.4 666.3 567.1 666.5 568.8C666.6 570.4 666.7 572.1 666.9 573.8C667.0 575.4 667.1 577.1 667.3 578.7C667.4 580.4 667.5 582.1 667.7 583.7C667.8 585.4 667.9 587.0 668.1 588.7C668.2 590.4 668.4 592.0 668.5 593.7C668.6 595.4 668.8 597.0 668.9 598.7C669.0 600.3 669.2 602.0 669.3 603.7C669.4 605.3 669.6 607.0 669.7 608.6C669.8 610.3 670.0 612.0 670.1 613.6C670.3 615.3 670.4 617.0 670.5 618.6C670.7 620.3 670.8 621.9 671.0 623.6C671.1 625.3 671.2 626.9 671.4 628.6C671.5 630.2 671.7 631.9 671.8 633.6C671.9 635.2 672.1 636.9 672.2 638.5C672.4 640.2 672.5 641.9 672.7 643.5C672.8 645.2 672.9 646.8 673.1 648.5C673.2 650.2 673.4 651.8 673.5 653.5C673.7 655.2 673.8 656.8 674.0 658.5C674.1 660.1 674.3 661.8 674.4 663.5C674.6 665.1 674.7 666.8 674.9 668.4C675.0 670.1 675.2 671.8 675.3 673.4C675.5 675.1 675.6 676.7 675.8 678.4C675.9 680.1 676.1 681.7 676.2 683.4C676.4 685.0 676.5 686.7 676.7 688.3C676.9 690.0 677.0 691.7 677.2 693.3C677.3 695.0 677.5 696.6 677.7 698.3C677.8 700.0 678.0 701.6 678.1 703.3C678.3 704.9 678.5 706.6 678.6 708.3C678.8 709.9 678.9 711.6 679.1 713.2C679.3 714.9 679.4 716.6 679.6 718.2C679.8 719.9 679.9 721.5 680.1 723.2C680.3 724.8 680.4 726.5 680.6 728.2C680.8 729.8 681.0 731.5 681.1 733.1C681.3 734.8 681.5 736.4 681.6 738.1C681.8 739.8 682.0 741.4 682.2 743.1C682.3 744.7 682.5 746.4 682.7 748.1C682.9 749.7 683.1 751.4 683.2 753.0C683.4 754.7 683.6 756.3 683.8 758.0C684.0 759.6 684.1 761.3 684.3 763.0C684.5 764.6 684.7 766.3 684.9 767.9C685.1 769.6 685.3 771.2 685.5 772.9C685.6 774.6 685.8 776.2 686.0 777.9C686.2 779.5 686.4 781.2 686.6 782.8C686.8 784.5 687.0 786.1 687.2 787.8C687.4 789.4 687.6 791.1 687.8 792.8C688.0 794.4 688.2 796.1 688.4 797.7C688.6 799.4 688.8 801.0 689.0 802.7C689.2 804.3 689.4 806.0 689.6 807.6C689.8 809.3 690.0 811.0 690.2 812.6C690.4 814.3 690.6 815.9 690.8 817.6C691.1 819.2 691.3 820.9 691.5 822.5C691.7 824.2 691.9 825.8 692.1 827.5C692.3 829.1 692.6 830.8 692.8 832.4C693.0 834.1 693.2 835.7 693.4 837.4C693.7 839.0 693.9 840.7 694.1 842.3C694.3 844.0 694.6 845.6 694.8 847.3C695.0 848.9 695.3 850.6 695.5 852.2C695.7 853.9 695.9 855.5 696.2 857.2C696.4 858.8 696.7 860.5 696.9 862.1C697.1 863.8 697.4 865.4 697.6 867.1C697.9 868.7 698.1 870.4 698.4 872.0C698.7 873.7 698.9 875.3 699.2 877.0C699.5 878.6 699.7 880.2 700.0 881.9C700.3 883.5 700.6 885.2 700.9 886.8C701.2 888.4 701.5 890.1 701.8 891.7C702.1 893.3 702.4 895.0 702.7 896.6C703.1 898.2 703.4 899.9 703.7 901.5C704.1 903.1 704.4 904.8 704.8 906.4C705.2 908.0 705.5 909.6 705.9 911.2C706.3 912.9 706.7 914.5 707.1 916.1C707.5 917.7 707.9 919.3 708.3 920.9C708.8 922.5 709.2 924.1 709.7 925.7C710.1 927.3 710.6 928.9 711.1 930.5C711.6 932.1 712.1 933.7 712.6 935.2C713.1 936.8 713.6 938.4 714.2 939.9C714.8 941.5 715.4 943.1 716.0 944.6C716.6 946.1 717.2 947.7 717.9 949.2C718.6 950.7 719.2 952.2 720.0 953.7C720.7 955.2 721.4 956.6 722.2 958.1C723.0 959.6 723.8 961.0 724.6 962.4C725.4 963.8 726.3 965.2 727.2 966.6C728.1 968.0 729.1 969.3 730.1 970.6C731.1 971.9 732.1 973.2 733.2 974.4C734.2 975.6 735.4 976.8 736.6 977.9C737.7 979.0 739.0 980.1 740.3 981.0C741.6 982.0 742.9 982.9 744.3 983.7C745.7 984.6 747.1 985.3 748.5 986.0C750.0 986.7 751.5 987.3 753.0 987.8C754.5 988.4 756.0 988.9 757.5 989.4C759.0 989.8 760.6 990.2 762.1 990.6C763.7 991.0 765.2 991.4 766.8 991.7C768.3 992.0 769.9 992.3 771.4 992.6C773.0 992.9 774.6 993.2 776.1 993.4C777.7 993.7 779.3 993.9 780.9 994.1C782.4 994.3 784.0 994.5 785.6 994.7C787.2 994.9 788.8 995.0 790.3 995.2C791.9 995.3 793.5 995.5 795.1 995.6C796.7 995.7 798.3 995.8 799.8 995.9C801.4 996.0 803.0 996.1 804.6 996.2C806.2 996.3 807.8 996.3 809.4 996.4C810.9 996.4 812.5 996.5 814.1 996.5C815.7 996.6 817.3 996.6 818.9 996.7C820.5 996.7 822.1 996.7 823.7 996.8C825.2 996.8 826.8 996.8 828.4 996.9C830.0 996.9 831.6 996.9 833.2 996.9C834.8 997.0 836.4 997.0 837.9 997.0C839.5 997.0 841.1 997.0 842.7 997.1C844.3 997.1 845.9 997.1 847.5 997.1C849.1 997.1 850.6 997.2 852.2 997.2C853.8 997.2 855.4 997.2 857.0 997.2C858.6 997.3 860.2 997.3 861.8 997.3C863.4 997.3 864.9 997.3 866.5 997.3C868.1 997.3 869.7 997.3 871.3 997.4C872.9 997.4 874.5 997.4 876.1 997.4C877.6 997.4 879.2 997.4 880.8 997.4C882.4 997.4 884.0 997.4 885.6 997.4C887.2 997.4 888.8 997.5 890.4 997.5C891.9 997.5 893.5 997.5 895.1 997.5C896.7 997.5 898.3 997.5 899.9 997.5C901.5 997.5 903.1 997.5 904.6 997.5C906.2 997.5 907.8 997.5 909.4 997.5C911.0 997.5 912.6 997.5 914.2 997.5C915.8 997.5 917.3 997.5 918.9 997.5C920.5 997.5 922.1 997.5 923.7 997.5C925.3 997.5 926.9 997.5 928.5 997.5C930.1 997.5 931.6 997.5 933.2 997.5C934.8 997.5 936.4 997.5 938.0 997.5C939.6 997.5 941.2 997.5 942.8 997.5C944.3 997.5 945.9 997.5 947.5 997.5C949.1 997.5 950.7 997.5 952.3 997.5C953.9 997.5 955.5 997.5 957.1 997.5C958.6 997.5 960.2 997.5 961.8 997.4C963.4 997.4 965.0 997.4 966.6 997.4C968.2 997.4 969.8 997.4 971.3 997.4C972.9 997.4 974.5 997.4 976.1 997.4C977.7 997.4 979.3 997.4 980.9 997.4C982.5 997.4 984.1 997.4 985.6 997.4C987.2 997.4 988.8 997.4 990.4 997.4C992.0 997.4 993.6 997.4 995.2 997.4C996.8 997.4 998.3 997.4 999.9 997.3C1001.5 997.3 1003.1 997.3 1004.7 997.3C1006.3 997.3 1007.9 997.3 1009.5 997.3C1011.1 997.3 1012.6 997.3 1014.2 997.3C1015.8 997.3 1017.4 997.3 1019.0 997.3C1020.6 997.3 1022.2 997.3 1023.8 997.3C1025.3 997.3 1026.9 997.3 1028.5 997.3C1030.1 997.3 1031.7 997.3 1033.3 997.3C1034.9 997.3 1036.5 997.3 1038.0 997.3C1039.6 997.3 1041.2 997.3 1042.8 997.3C1044.4 997.3 1046.0 997.3 1047.6 997.3C1049.2 997.3 1050.8 997.3 1052.3 997.3C1053.9 997.3 1055.5 997.3 1057.1 997.4C1058.7 997.4 1060.3 997.4 1061.9 997.4C1063.5 997.4 1065.0 997.4 1066.6 997.4C1068.2 997.4 1069.8 997.4 1071.4 997.4C1073.0 997.4 1074.6 997.4 1076.2 997.4C1077.8 997.5 1079.3 997.5 1080.9 997.5C1082.5 997.5 1084.1 997.5 1085.7 997.5C1087.3 997.5 1088.9 997.5 1090.5 997.6C1092.0 997.6 1093.6 997.6 1095.2 997.6C1096.8 997.6 1098.4 997.6 1100.0 997.7C1101.6 997.7 1103.2 997.7 1104.8 997.7C1106.3 997.7 1107.9 997.8 1109.5 997.8C1111.1 997.8 1112.7 997.8 1114.3 997.8C1115.9 997.9 1117.5 997.9 1119.0 997.9C1120.6 997.9 1123.0 998.0 1123.8 998.0"/>
<path stroke="#008000" d="M219.8 793.7C220.6 793.7 223.0 793.5 224.6 793.8C226.1 794.0 227.7 794.4 229.2 795.0C230.7 795.6 232.1 796.4 233.4 797.3C234.7 798.3 235.9 799.4 237.0 800.6C238.2 801.7 239.2 803.0 240.2 804.3C241.2 805.6 242.1 807.0 243.0 808.3C244.0 809.7 244.9 811.1 245.8 812.4C246.8 813.8 247.7 815.1 248.7 816.4C249.6 817.8 250.6 819.1 251.6 820.4C252.6 821.7 253.6 823.0 254.6 824.3C255.6 825.6 256.6 826.9 257.6 828.1C258.7 829.4 259.7 830.7 260.7 832.0C261.7 833.3 262.7 834.5 263.8 835.8C264.8 837.1 265.8 838.4 266.8 839.7C267.8 841.0 268.8 842.3 269.8 843.6C270.8 844.9 271.8 846.2 272.8 847.5C273.8 848.8 274.7 850.1 275.7 851.5C276.6 852.8 277.6 854.2 278.5 855.5C279.5 856.9 280.4 858.2 281.3 859.6C282.3 860.9 283.3 862.2 284.3 863.5C285.3 864.8 286.3 866.1 287.4 867.3C288.4 868.6 289.5 869.8 290.7 870.9C291.9 872.0 293.0 873.3 294.3 874.1C295.7 875.0 297.3 875.8 298.7 875.8C300.2 875.8 301.8 874.9 303.2 874.2C304.6 873.5 305.9 872.5 307.2 871.5C308.5 870.5 309.8 869.5 310.9 868.4C312.1 867.3 313.3 866.1 314.4 864.9C315.5 863.7 316.5 862.4 317.5 861.1C318.5 859.8 319.5 858.5 320.4 857.1C321.3 855.8 322.2 854.4 323.0 853.0C323.9 851.6 324.7 850.1 325.5 848.7C326.3 847.2 327.0 845.7 327.7 844.2C328.4 842.7 329.1 841.2 329.8 839.7C330.4 838.2 331.0 836.6 331.7 835.1C332.3 833.6 332.8 832.0 333.4 830.5C334.0 828.9 334.6 827.3 335.1 825.8C335.7 824.2 336.2 822.6 336.8 821.1C337.4 819.5 337.9 818.0 338.5 816.4C339.1 814.9 339.7 813.3 340.3 811.8C340.9 810.2 341.6 808.7 342.2 807.2C342.9 805.6 343.6 804.1 344.2 802.6C344.9 801.1 345.6 799.6 346.3 798.1C346.9 796.6 347.6 795.1 348.3 793.6C349.0 792.0 349.6 790.5 350.3 789.0C351.0 787.5 351.6 786.0 352.2 784.4C352.9 782.9 353.5 781.4 354.1 779.8C354.7 778.3 355.3 776.7 355.8 775.1C356.4 773.6 356.9 772.0 357.5 770.4C358.0 768.9 358.6 767.3 359.1 765.7C359.7 764.2 360.2 762.6 360.7 761.0C361.2 759.4 361.8 757.9 362.3 756.3C362.8 754.7 363.4 753.1 363.9 751.6C364.4 750.0 365.0 748.4 365.6 746.9C366.1 745.3 366.7 743.8 367.3 742.2C368.0 740.7 368.6 739.2 369.3 737.7C370.1 736.2 370.8 734.7 371.7 733.3C372.5 731.9 373.5 730.5 374.5 729.2C375.4 727.9 376.5 726.7 377.6 725.5C378.8 724.3 380.0 723.2 381.2 722.2C382.5 721.3 383.9 720.3 385.3 719.7C386.8 719.1 388.4 718.5 389.9 718.5C391.5 718.5 393.1 718.9 394.6 719.5C396.1 720.1 397.4 721.0 398.8 721.9C400.1 722.8 401.3 723.9 402.6 724.9C403.8 726.0 405.0 727.1 406.2 728.1C407.5 729.2 408.7 730.2 410.0 731.3C411.2 732.3 412.5 733.4 413.7 734.4C414.9 735.4 416.2 736.5 417.4 737.6C418.6 738.6 419.8 739.7 421.0 740.9C422.1 742.0 423.3 743.2 424.4 744.4C425.4 745.6 426.5 746.9 427.5 748.2C428.5 749.4 429.5 750.8 430.4 752.1C431.4 753.5 432.3 754.8 433.2 756.2C434.1 757.6 434.9 759.0 435.7 760.5C436.6 761.9 437.4 763.3 438.1 764.8C438.9 766.2 439.7 767.7 440.4 769.2C441.1 770.7 441.9 772.2 442.6 773.7C443.3 775.2 443.9 776.7 444.6 778.2C445.3 779.7 446.0 781.2 446.6 782.7C447.3 784.2 447.9 785.8 448.6 787.3C449.2 788.8 449.8 790.4 450.5 791.9C451.1 793.4 451.7 795.0 452.3 796.5C453.0 798.0 453.6 799.6 454.2 801.1C454.8 802.7 455.4 804.2 456.0 805.8C456.6 807.3 457.2 808.9 457.8 810.4C458.4 811.9 459.0 813.5 459.6 815.0C460.2 816.6 460.8 818.1 461.4 819.7C462.0 821.2 462.7 822.8 463.3 824.3C463.9 825.8 464.5 827.4 465.1 828.9C465.8 830.4 466.4 832.0 467.0 833.5C467.7 835.0 468.3 836.6 469.0 838.1C469.6 839.6 470.3 841.1 471.0 842.6C471.6 844.1 472.3 845.7 473.0 847.2C473.7 848.7 474.4 850.2 475.2 851.6C475.9 853.1 476.6 854.6 477.4 856.1C478.1 857.6 478.9 859.0 479.7 860.5C480.4 861.9 481.2 863.4 482.0 864.8C482.9 866.3 483.7 867.7 484.5 869.1C485.4 870.5 486.3 871.9 487.2 873.2C488.2 874.6 489.1 875.9 490.2 877.2C491.2 878.5 492.2 879.7 493.4 880.9C494.5 882.1 495.6 883.2 496.9 884.3C498.1 885.4 499.3 886.4 500.7 887.3C502.0 888.1 503.5 888.9 505.0 889.4C506.5 889.8 508.1 890.0 509.7 890.1C511.3 890.2 512.9 890.0 514.5 889.7C516.0 889.4 517.6 888.9 519.0 888.2C520.5 887.6 521.9 886.8 523.3 885.9C524.6 885.1 525.9 884.1 527.1 883.0C528.4 882.0 529.6 880.8 530.7 879.7C531.8 878.5 532.9 877.3 534.0 876.1C535.1 874.8 536.1 873.5 537.1 872.2C538.1 870.9 539.0 869.6 539.9 868.2C540.8 866.9 541.7 865.5 542.6 864.1C543.4 862.6 544.2 861.2 545.0 859.8C545.8 858.3 546.6 856.9 547.3 855.4C548.1 853.9 548.8 852.4 549.5 850.9C550.2 849.4 550.9 847.9 551.6 846.4C552.2 844.9 552.9 843.3 553.5 841.8C554.1 840.3 554.8 838.7 555.4 837.2C556.0 835.7 556.6 834.1 557.2 832.6C557.8 831.0 558.4 829.5 559.0 827.9C559.6 826.4 560.2 824.8 560.8 823.3C561.4 821.7 562.0 820.2 562.6 818.6C563.1 817.1 563.7 815.5 564.3 814.0C564.8 812.4 565.4 810.8 566.0 809.3C566.5 807.7 567.1 806.1 567.6 804.6C568.2 803.0 568.7 801.4 569.3 799.9C569.8 798.3 570.4 796.7 570.9 795.2C571.5 793.6 572.0 792.0 572.5 790.4C573.0 788.9 573.6 787.3 574.1 785.7C574.6 784.1 575.1 782.6 575.7 781.0C576.2 779.4 576.7 777.8 577.2 776.2C577.7 774.7 578.2 773.1 578.7 771.5C579.2 769.9 579.7 768.3 580.2 766.7C580.7 765.1 581.2 763.6 581.7 762.0C582.2 760.4 582.7 758.8 583.2 757.2C583.6 755.6 584.1 754.0 584.6 752.4C585.1 750.8 585.6 749.2 586.0 747.7C586.5 746.1 587.0 744.5 587.5 742.9C587.9 741.3 588.4 739.7 588.9 738.1C589.3 736.5 589.8 734.9 590.3 733.3C590.7 731.7 591.2 730.1 591.6 728.5C592.1 726.9 592.6 725.3 593.0 723.7C593.5 722.1 593.9 720.5 594.4 718.9C594.8 717.3 595.3 715.7 595.7 714.1C596.2 712.5 596.6 710.9 597.1 709.3C597.5 707.7 597.9 706.1 598.4 704.5C598.8 702.9 599.3 701.2 599.7 699.6C600.1 698.0 600.6 696.4 601.0 694.8C601.5 693.2 601.9 691.6 602.3 690.0C602.8 688.4 603.2 686.8 603.6 685.2C604.1 683.6 604.5 682.0 604.9 680.4C605.3 678.8 605.8 677.1 606.2 675.5C606.6 673.9 607.1 672.3 607.5 670.7C607.9 669.1 608.3 667.5 608.7 665.9C609.2 664.3 609.6 662.7 610.0 661.0C610.4 659.4 610.9 657.8 611.3 656.2C611.7 654.6 612.1 653.0 612.5 651.4C613.0 649.8 613.4 648.2 613.8 646.5C614.2 644.9 614.6 643.3 615.0 641.7C615.5 640.1 615.9 638.5 616.3 636.9C616.7 635.3 617.1 633.6 617.5 632.0C617.9 630.4 618.4 628.8 618.8 627.2C619.2 625.6 619.6 624.0 620.0 622.4C620.4 620.7 620.8 619.1 621.2 617.5C621.6 615.9 622.1 614.3 622.5 612.7C622.9 611.1 623.3 609.4 623.7 607.8C624.1 606.2 624.5 604.6 624.9 603.0C625.3 601.4 625.7 599.8 626.2 598.2C626.6 596.5 627.0 594.9 627.4 593.3C627.8 591.7 628.2 590.1 628.6 588.5C629.0 586.9 629.4 585.2 629.8 583.6C630.3 582.0 630.7 580.4 631.1 578.8C631.5 577.2 631.9 575.6 632.3 573.9C632.7 572.3 633.1 570.7 633.5 569.1C633.9 567.5 634.4 565.9 634.8 564.3C635.2 562.6 635.6 561.0 636.0 559.4C636.4 557.8 636.8 556.2 637.2 554.6C637.7 553.0 638.1 551.4 638.5 549.7C638.9 548.1 639.3 546.5 639.7 544.9C640.2 543.3 640.6 541.7 641.0 540.1C641.4 538.5 641.9 536.9 642.3 535.3C642.7 533.7 643.2 532.0 643.6 530.4C644.1 528.8 644.5 527.2 645.0 525.6C645.4 524.0 645.9 522.4 646.4 520.8C646.8 519.2 647.3 517.6 647.8 516.1C648.2 514.5 648.7 512.9 649.2 511.3C649.7 509.7 650.2 508.1 650.7 506.5C651.2 504.9 651.7 503.4 652.3 501.8C652.8 500.2 653.3 498.6 653.8 497.1C654.4 495.5 654.9 493.9 655.5 492.3C656.0 490.8 656.5 489.2 657.1 487.6C657.6 486.1 658.2 484.5 658.8 482.9C659.3 481.4 659.9 479.8 660.4 478.2C661.0 476.7 661.6 475.1 662.1 473.6C662.7 472.0 663.2 470.4 663.8 468.9C664.4 467.3 664.9 465.8 665.5 464.2C666.1 462.6 666.6 461.1 667.2 459.5C667.8 457.9 668.3 456.4 668.9 454.8C669.4 453.3 670.0 451.7 670.6 450.1C671.1 448.6 671.7 447.0 672.2 445.4C672.8 443.9 673.3 442.3 673.8 440.7C674.4 439.1 674.9 437.6 675.4 436.0C676.0 434.4 676.5 432.8 677.0 431.3C677.5 429.7 678.1 428.1 678.6 426.5C679.1 425.0 679.7 423.4 680.2 421.8C680.8 420.3 681.4 418.7 682.0 417.2C682.6 415.6 683.2 414.1 683.8 412.6C684.5 411.0 685.2 409.5 685.9 408.0C686.6 406.5 687.3 405.1 688.1 403.6C688.9 402.1 689.7 400.7 690.6 399.3C691.5 397.9 692.4 396.5 693.3 395.2C694.3 393.9 695.3 392.6 696.4 391.4C697.6 390.2 698.7 389.1 700.0 388.1C701.3 387.1 702.6 386.1 704.0 385.4C705.4 384.7 707.1 384.1 708.6 384.1C710.1 384.1 711.7 384.8 713.1 385.6C714.4 386.3 715.7 387.5 716.8 388.6C718.0 389.8 719.0 391.1 719.9 392.4C720.9 393.8 721.7 395.2 722.5 396.7C723.2 398.1 723.9 399.6 724.6 401.2C725.3 402.7 725.9 404.2 726.5 405.8C727.1 407.3 727.6 408.9 728.2 410.5C728.7 412.0 729.2 413.6 729.7 415.2C730.2 416.8 730.7 418.4 731.1 420.0C731.6 421.6 732.0 423.2 732.4 424.8C732.8 426.4 733.2 428.0 733.6 429.7C734.0 431.3 734.4 432.9 734.8 434.5C735.2 436.1 735.6 437.7 736.0 439.4C736.4 441.0 736.7 442.6 737.1 444.2C737.5 445.8 737.9 447.5 738.3 449.1C738.7 450.7 739.1 452.3 739.4 453.9C739.8 455.6 740.2 457.2 740.6 458.8C741.0 460.4 741.3 462.1 741.7 463.7C742.1 465.3 742.4 466.9 742.8 468.6C743.2 470.2 743.5 471.8 743.9 473.4C744.2 475.1 744.6 476.7 744.9 478.3C745.3 480.0 745.6 481.6 746.0 483.2C746.3 484.9 746.6 486.5 747.0 488.1C747.3 489.8 747.6 491.4 748.0 493.0C748.3 494.7 748.6 496.3 748.9 497.9C749.3 499.6 749.6 501.2 749.9 502.8C750.2 504.5 750.5 506.1 750.8 507.7C751.1 509.4 751.5 511.0 751.8 512.7C752.1 514.3 752.4 515.9 752.7 517.6C753.0 519.2 753.3 520.9 753.6 522.5C753.9 524.1 754.2 525.8 754.5 527.4C754.8 529.1 755.0 530.7 755.3 532.4C755.6 534.0 755.9 535.6 756.2 537.3C756.5 538.9 756.8 540.6 757.0 542.2C757.3 543.9 757.6 545.5 757.9 547.1C758.1 548.8 758.4 550.4 758.7 552.1C759.0 553.7 759.2 555.4 759.5 557.0C759.8 558.7 760.1 560.3 760.3 562.0C760.6 563.6 760.9 565.2 761.1 566.9C761.4 568.5 761.7 570.2 761.9 571.8C762.2 573.5 762.5 575.1 762.7 576.8C763.0 578.4 763.2 580.1 763.5 581.7C763.8 583.4 764.0 585.0 764.3 586.7C764.5 588.3 764.8 590.0 765.1 591.6C765.3 593.3 765.6 594.9 765.8 596.6C766.1 598.2 766.3 599.8 766.6 601.5C766.8 603.1 767.1 604.8 767.4 606.4C767.6 608.1 767.9 609.7 768.1 611.4C768.4 613.0 768.6 614.7 768.9 616.3C769.1 618.0 769.4 619.6 769.7 621.3C769.9 622.9 770.2 624.6 770.4 626.2C770.7 627.9 770.9 629.5 771.2 631.2C771.5 632.8 771.7 634.5 772.0 636.1C772.2 637.8 772.5 639.4 772.7 641.1C773.0 642.7 773.3 644.4 773.5 646.0C773.8 647.6 774.0 649.3 774.3 650.9C774.6 652.6 774.8 654.2 775.1 655.9C775.4 657.5 775.6 659.2 775.9 660.8C776.2 662.5 776.4 664.1 776.7 665.8C777.0 667.4 777.2 669.1 777.5 670.7C777.8 672.3 778.1 674.0 778.3 675.6C778.6 677.3 778.9 678.9 779.2 680.6C779.4 682.2 779.7 683.9 780.0 685.5C780.3 687.1 780.6 688.8 780.8 690.4C781.1 692.1 781.4 693.7 781.7 695.4C782.0 697.0 782.3 698.6 782.6 700.3C782.9 701.9 783.2 703.6 783.5 705.2C783.8 706.9 784.1 708.5 784.4 710.1C784.7 711.8 785.0 713.4 785.3 715.1C785.6 716.7 785.9 718.3 786.2 720.0C786.5 721.6 786.8 723.2 787.1 724.9C787.5 726.5 787.8 728.2 788.1 729.8C788.4 731.4 788.7 733.1 789.1 734.7C789.4 736.3 789.7 738.0 790.0 739.6C790.4 741.2 790.7 742.9 791.0 744.5C791.4 746.1 791.7 747.8 792.0 749.4C792.4 751.0 792.7 752.7 793.0 754.3C793.4 755.9 793.7 757.6 794.1 759.2C794.4 760.8 794.8 762.5 795.1 764.1C795.5 765.7 795.8 767.3 796.2 769.0C796.5 770.6 796.9 772.2 797.2 773.9C797.6 775.5 797.9 777.1 798.3 778.7C798.7 780.4 799.0 782.0 799.4 783.6C799.8 785.2 800.1 786.9 800.5 788.5C800.9 790.1 801.2 791.7 801.6 793.4C802.0 795.0 802.4 796.6 802.8 798.2C803.1 799.8 803.5 801.5 803.9 803.1C804.3 804.7 804.7 806.3 805.0 808.0C805.4 809.6 805.8 811.2 806.2 812.8C806.6 814.4 807.0 816.1 807.4 817.7C807.8 819.3 808.2 820.9 808.6 822.5C809.0 824.1 809.4 825.8 809.8 827.4C810.2 829.0 810.6 830.6 811.0 832.2C811.4 833.8 811.8 835.4 812.2 837.1C812.6 838.7 813.0 840.3 813.4 841.9C813.9 843.5 814.3 845.1 814.7 846.7C815.1 848.4 815.5 850.0 815.9 851.6C816.4 853.2 816.8 854.8 817.2 856.4C817.6 858.0 818.1 859.6 818.5 861.2C818.9 862.8 819.3 864.4 819.8 866.1C820.2 867.7 820.6 869.3 821.1 870.9C821.5 872.5 821.9 874.1 822.4 875.7C822.8 877.3 823.3 878.9 823.7 880.5C824.1 882.1 824.6 883.7 825.0 885.3C825.5 886.9 825.9 888.5 826.4 890.1C826.8 891.7 827.3 893.3 827.7 894.9C828.2 896.5 828.6 898.1 829.1 899.7C829.5 901.3 830.0 902.9 830.5 904.5C830.9 906.1 831.4 907.7 831.9 909.3C832.4 910.9 832.9 912.5 833.4 914.1C833.9 915.7 834.4 917.2 835.0 918.8C835.5 920.4 836.1 921.9 836.7 923.5C837.2 925.0 837.8 926.6 838.4 928.1C839.1 929.7 839.7 931.2 840.4 932.7C841.0 934.2 841.7 935.7 842.4 937.2C843.2 938.7 843.9 940.2 844.7 941.6C845.5 943.1 846.3 944.5 847.1 946.0C848.0 947.4 848.9 948.8 849.8 950.1C850.7 951.5 851.7 952.8 852.7 954.1C853.7 955.4 854.7 956.7 855.7 957.9C856.8 959.2 857.9 960.4 859.0 961.6C860.2 962.7 861.3 963.9 862.5 965.0C863.7 966.1 864.9 967.2 866.2 968.2C867.4 969.2 868.7 970.2 870.0 971.2C871.3 972.1 872.7 973.1 874.0 973.9C875.4 974.8 876.7 975.6 878.1 976.4C879.5 977.2 881.0 978.0 882.4 978.7C883.8 979.5 885.3 980.1 886.7 980.8C888.2 981.4 889.7 982.1 891.2 982.6C892.7 983.2 894.2 983.8 895.7 984.3C897.2 984.8 898.7 985.3 900.2 985.8C901.8 986.2 903.3 986.6 904.8 987.1C906.4 987.5 907.9 987.8 909.5 988.2C911.0 988.6 912.6 988.9 914.2 989.2C915.7 989.5 917.3 989.8 918.9 990.1C920.4 990.4 922.0 990.6 923.6 990.9C925.2 991.1 926.7 991.3 928.3 991.5C929.9 991.8 931.5 992.0 933.0 992.1C934.6 992.3 936.2 992.5 937.8 992.7C939.4 992.8 941.0 993.0 942.5 993.1C944.1 993.3 945.7 993.4 947.3 993.5C948.9 993.7 950.5 993.8 952.1 993.9C953.6 994.0 955.2 994.2 956.8 994.3C958.4 994.4 960.0 994.5 961.6 994.6C963.2 994.7 964.8 994.8 966.3 994.9C967.9 995.0 969.5 995.1 971.1 995.2C972.7 995.3 974.3 995.4 975.9 995.5C977.5 995.6 979.1 995.6 980.6 995.7C982.2 995.8 983.8 995.9 985.4 995.9C987.0 996.0 988.6 996.1 990.2 996.1C991.8 996.2 993.4 996.3 994.9 996.3C996.5 996.4 998.1 996.4 999.7 996.5C1001.3 996.6 1002.9 996.6 1004.5 996.7C1006.1 996.7 1007.7 996.7 1009.3 996.8C1010.8 996.8 1012.4 996.9 1014.0 996.9C1015.6 997.0 1017.2 997.0 1018.8 997.0C1020.4 997.1 1022.0 997.1 1023.6 997.1C1025.2 997.1 1026.7 997.2 1028.3 997.2C1029.9 997.2 1031.5 997.2 1033.1 997.3C1034.7 997.3 1036.3 997.3 1037.9 997.3C1039.5 997.4 1041.1 997.4 1042.7 997.4C1044.2 997.4 1045.8 997.4 1047.4 997.4C1049.0 997.4 1050.6 997.5 1052.2 997.5C1053.8 997.5 1055.4 997.5 1057.0 997.5C1058.6 997.5 1060.1 997.5 1061.7 997.5C1063.3 997.5 1064.9 997.5 1066.5 997.5C1068.1 997.5 1069.7 997.5 1071.3 997.6C1072.9 997.6 1074.5 997.6 1076.1 997.6C1077.6 997.6 1079.2 997.6 1080.8 997.6C1082.4 997.6 1084.0 997.6 1085.6 997.6C1087.2 997.6 1088.8 997.6 1090.4 997.6C1092.0 997.6 1093.6 997.6 1095.1 997.6C1096.7 997.6 1098.3 997.6 1099.9 997.6C1101.5 997.6 1103.1 997.6 1104.7 997.6C1106.3 997.7 1107.9 997.7 1109.5 997.7C1111.1 997.7 1112.6 997.7 1114.2 997.7C1115.8 997.7 1117.4 997.7 1119.0 997.7C1120.6 997.7 1122.2 997.8 1123.8 997.8C1125.4 997.8 1127.0 997.8 1128.5 997.8C1130.1 997.8 1131.7 997.8 1133.3 997.9C1134.9 997.9 1136.5 997.9 1138.1 997.9C1139.7 998.0 1142.1 998.0 1142.9 998.0"/>
</g>
<g fill="none" stroke-width="8.8" stroke-linejoin="round" stroke-linecap="round">
<path stroke="#008000" d="M839.1 930.1L839.9 928.9L840.8 927.7L841.7 926.5L842.6 925.3L843.6 924.2L844.6 923L845.6 921.9L846.6 920.8M857.1 904.6L857.9 903.3L858.7 902.1L859.5 900.8L860.4 899.6L861.4 898.5L862.4 897.4L863.4 896.3L864.4 895.1M873.4 873.2L873.8 871.8L874.3 870.3L874.9 868.9L875.4 867.5L875.9 866.1L876.4 864.7L877 863.3L877.2 862.9M886.4 842.2L887.1 840.9L887.8 839.5L888.4 838.2L889 836.8L889.6 835.4L890.1 834L890.6 832.6L891 831.7M897.7 812L898.2 810.6L898.7 809.2L899.2 807.7L899.7 806.3L900.2 804.9L900.7 803.5L901.2 802.1L901.4 801.6M909.3 781.8L909.8 780.4L910.2 779L910.7 777.6L911.1 776.1L911.6 774.7L912 773.2L912.4 771.8L912.5 771.3M917.9 749.9L918.2 748.5L918.6 747L919 745.6L919.3 744.1L919.7 742.7L920.1 741.2L920.4 739.8L920.6 739.3M926.2 717.4L926.5 715.9L926.9 714.4L927.2 713L927.5 711.5L927.8 710L928.1 708.6L928.4 707.1L928.5 706.6M932.3 685.1L932.6 683.6L932.8 682.2L933.1 680.7L933.4 679.2L933.7 677.7L934 676.3L934.3 674.8L934.3 674.3M938.6 653.1L938.9 651.6L939.2 650.2L939.5 648.7L939.8 647.2L940.1 645.7L940.4 644.3L940.7 642.8L940.8 642.3M945 620.5L945.3 619L945.6 617.6L945.9 616.1L946.2 614.6L946.5 613.1L946.8 611.7L947.1 610.2L947.2 609.7M951 590.9L951.2 589.4L951.5 588L951.7 586.5L952 585L952.2 583.5L952.5 582L952.7 580.6L952.8 580.1M956.2 555.5L956.4 554L956.6 552.5L956.8 551L957 549.5L957.2 548L957.3 546.5L957.5 545L957.6 544.5M960.1 522.8L960.3 521.4L960.5 519.9L960.8 518.4L961 516.9L961.2 515.4L961.4 513.9L961.7 512.5L961.8 512.0M965.7 490.4L966 488.9L966.3 487.5L966.5 486L966.8 484.5L967 483L967.3 481.5L967.5 480.1L967.6 479.6M971 458L971.2 456.5L971.5 455.1L971.7 453.6L972 452.1L972.2 450.6L972.5 449.2L972.8 447.7L972.9 447.2M976.9 425.6L977.2 424.1L977.4 422.7L977.7 421.2L978 419.7L978.3 418.2L978.6 416.8L978.8 415.3L978.9 414.8M983.1 393.2L983.4 391.7L983.6 390.3L983.9 388.8L984.2 387.3L984.5 385.8L984.7 384.4L985 382.9L985.1 382.4M989 360.6L989.2 359.1L989.5 357.7L989.7 356.2L990 354.7L990.2 353.2L990.5 351.7L990.7 350.3L990.8 349.8M994 328.3L994.3 326.9L994.5 325.4L994.7 323.9L995 322.4L995.2 320.9L995.4 319.4L995.7 318L995.7 317.5M999.2 295.7L999.5 294.2L999.9 292.7L1000.2 291.3L1000.5 289.8L1000.9 288.4L1001.2 286.9L1001.6 285.5L1001.8 285.0M1008.1 264.9L1008.6 263.5L1009.1 262.1L1009.5 260.7L1009.9 259.2L1010.4 257.8L1010.8 256.4L1011.3 254.9L1011.4 254.5M1018.1 233L1018.5 231.6L1018.9 230.1L1019.3 228.7L1019.6 227.2L1019.9 225.7L1020.2 224.3L1020.5 222.8L1020.6 222.3M1023.8 201.1L1024.1 199.6L1024.5 198.2L1024.9 196.7L1025.3 195.3L1025.8 193.9L1026.3 192.5L1026.9 191.1L1027.4 189.7M1037.4 170.4L1038.1 169L1038.8 167.7L1039.4 166.3L1040 164.9L1040.6 163.6L1041.1 162.2L1041.6 160.7L1041.9 159.8M1103.4 174.2L1104.2 175.5L1104.9 176.8L1105.6 178.2L1106.3 179.5L1106.9 180.9L1107.5 182.2L1108.1 183.6L1108.7 185.0M1115 205.7L1115.5 207.1L1116 208.5L1116.5 210L1117 211.4L1117.5 212.8L1118 214.2L1118.6 215.6L1118.8 216.0M1127.2 235.9L1127.8 237.3L1128.4 238.7L1128.9 240.1L1129.5 241.5L1130 242.9L1130.6 244.3L1131.2 245.6L1131.3 246.1M1139.6 267.5L1140.2 268.9L1140.7 270.3L1141.2 271.7L1141.8 273.1L1142.3 274.5L1142.9 275.9L1143.4 277.3L1143.6 277.7M1163.9 328.8L1164.5 330.2L1165 331.6L1165.5 333.1L1166 334.5L1166.4 335.9L1166.9 337.3L1167.3 338.8L1167.5 339.2M1173 359.8L1173.4 361.3L1173.8 362.7L1174.2 364.1L1174.6 365.6L1175.1 367L1175.5 368.4L1176 369.9L1176.2 370.3M1183.5 392L1184 393.4L1184.5 394.8L1185 396.3L1185.5 397.7L1185.9 399.1L1186.4 400.5L1186.9 401.9L1187.1 402.4M1193.9 422.5L1194.4 423.9L1194.9 425.3L1195.3 426.7L1195.7 428.2L1196.2 429.6L1196.6 431.1L1197 432.5L1197.2 433.0M1202.9 454.3L1203.3 455.7L1203.7 457.2L1204.1 458.6L1204.5 460.1L1205 461.5L1205.4 463L1205.8 464.4L1205.9 464.9M1212.3 486.3L1212.7 487.8L1213.2 489.2L1213.6 490.6L1214 492.1L1214.5 493.5L1214.9 495L1215.3 496.4L1215.5 496.9M1221.7 517.7L1222.2 519.1L1222.6 520.5L1223.1 521.9L1223.6 523.4L1224 524.8L1224.5 526.2L1225 527.6L1225.2 528.1M1232.8 549.3L1233.3 550.7L1233.8 552.2L1234.4 553.6L1234.9 555L1235.4 556.4L1235.9 557.8L1236.4 559.2L1236.6 559.7M1244.5 580.4L1245 581.8L1245.5 583.2L1246 584.7L1246.5 586.1L1246.9 587.5L1247.3 588.9L1247.8 590.4L1247.9 590.9M1253.8 612.5L1254.2 613.9L1254.7 615.3L1255.2 616.8L1255.7 618.2L1256.2 619.6L1256.7 621L1257.2 622.4L1257.4 622.9M1265.9 642.8L1266.5 644.2L1267.1 645.6L1267.6 647L1268.2 648.4L1268.7 649.8L1269.2 651.2L1269.7 652.6L1269.9 653.1M1277 673.5L1277.5 674.9L1278.1 676.3L1278.6 677.7L1279.2 679.1L1279.8 680.4L1280.4 681.8L1281 683.2L1281.2 683.7M1291.1 704.8L1291.7 706.2L1292.4 707.5L1293 708.9L1293.6 710.3L1294.2 711.6L1294.9 713L1295.5 714.3L1295.7 714.8M1304.2 733.5L1304.8 734.8L1305.4 736.2L1306 737.6L1306.6 739L1307.2 740.3L1307.7 741.7L1308.3 743.1L1308.5 743.6M1316.3 763.5L1316.8 764.9L1317.4 766.3L1318 767.7L1318.6 769.1L1319.2 770.4L1319.8 771.8L1320.4 773.2L1320.6 773.6M1329.8 793.2L1330.6 794.5L1331.3 795.8L1332 797.1L1332.7 798.4L1333.5 799.7L1334.3 801L1335.1 802.3L1335.3 802.7M1348 821.3L1348.8 822.5L1349.7 823.7L1350.5 825L1351.4 826.2L1352.2 827.5L1353.1 828.7L1353.9 829.9L1354.2 830.4M1365.7 847.4L1366.6 848.6L1367.4 849.9L1368.3 851.1L1369.2 852.3L1370.1 853.5L1371 854.7L1371.8 855.9L1372.1 856.3M1385.5 873.9L1386.4 875.1L1387.3 876.2L1388.3 877.4L1389.2 878.6L1390.2 879.8L1391.1 880.9L1392 882.1L1392.4 882.5M1406.7 899.4L1407.7 900.5L1408.8 901.6L1409.8 902.7L1410.9 903.8L1411.9 904.8L1413 905.9L1414.1 906.9L1414.4 907.2M1431.2 921.6L1432.4 922.6L1433.6 923.5L1434.7 924.5L1435.9 925.4L1437 926.4L1438.2 927.3L1439.4 928.3L1439.7 928.6M1456.7 942L1457.9 942.9L1459.2 943.8L1460.4 944.6L1461.6 945.5L1462.8 946.3L1464.1 947.2L1465.3 948L1465.7 948.3M1484.8 960.2L1486.1 960.9L1487.4 961.7L1488.6 962.5L1489.9 963.3L1491.2 964L1492.5 964.8L1493.8 965.6L1494.2 965.8M1513.7 977.1L1515 977.8L1516.4 978.5L1517.7 979.2L1519.1 979.8L1520.4 980.5L1521.8 981.1L1523.1 981.7L1523.6 981.9M1544.3 990.1L1545.7 990.6L1547.1 991.2L1548.5 991.7L1549.9 992.3L1551.3 992.8L1552.6 993.4L1554 994L1554.5 994.2M1066.5 132L1071.9 142.8M1086.6 150.6L1092.8 160.8M780.3 986.3L785 994.5L786.9 983.4M793.3 961.5L801.4 959.3M822.8 945.6L825.8 950.6L830.8 947.3M1048 146.2L1054.2 150.2M1149.3 299.6L1152.8 301.6L1156.5 306.3"/>
<path stroke="#ff00ff" d="M825.9 974.3L826.9 973.2L827.9 972.1L828.9 971L829.9 969.8L830.9 968.7L831.9 967.6L832.9 966.4L833.2 966.0M843.9 951.3L844.8 950.1L845.6 948.8L846.4 947.6L847.2 946.3L847.9 945L848.7 943.7L849.5 942.4L849.7 942.0M858.4 922.1L858.9 920.7L859.5 919.3L860 917.9L860.6 916.5L861.2 915.1L861.9 913.8L862.5 912.4L863 911.5M871.8 892.4L872.4 891L872.9 889.6L873.4 888.2L874 886.8L874.5 885.4L875 884L875.5 882.6L875.7 882.1M882.9 860.7L883.4 859.3L883.9 857.9L884.3 856.5L884.7 855L885.2 853.6L885.6 852.1L886 850.7L886.2 850.2M891.9 828.7L892.2 827.3L892.6 825.8L893 824.4L893.3 822.9L893.7 821.5L894.1 820L894.4 818.6L894.5 818.1M899.3 796.9L899.6 795.4L899.9 793.9L900.2 792.5L900.5 791L900.8 789.5L901.2 788.1L901.5 786.6L901.6 786.1M906.5 765.2L906.8 763.7L907.1 762.2L907.5 760.8L907.8 759.3L908.1 757.9L908.5 756.4L908.8 754.9L908.9 754.4M913.8 733L914.2 731.5L914.5 730L914.8 728.6L915.1 727.1L915.4 725.6L915.7 724.2L916 722.7L916.1 722.2M920.3 701L920.6 699.5L920.9 698.1L921.2 696.6L921.5 695.1L921.8 693.6L922.1 692.2L922.4 690.7L922.5 690.2M927 668.6L927.3 667.1L927.6 665.7L927.9 664.2L928.2 662.7L928.5 661.2L928.7 659.8L929 658.3L929.1 657.8M932.7 636.2L932.9 634.7L933.2 633.3L933.4 631.8L933.7 630.3L933.9 628.8L934.2 627.3L934.4 625.9L934.5 625.4M938.1 603.7L938.4 602.2L938.6 600.8L938.9 599.3L939.2 597.8L939.5 596.3L939.8 594.9L940.1 593.4L940.2 592.9M944.6 571.3L944.9 569.8L945.2 568.4L945.4 566.9L945.7 565.4L945.9 563.9L946.1 562.4L946.4 561L946.4 560.5M949.1 538.5L949.3 537L949.4 535.5L949.6 534L949.8 532.5L949.9 531L950.1 529.5L950.2 528L950.3 527.5M952.5 505.7L952.7 504.2L952.8 502.7L953 501.2L953.2 499.7L953.3 498.2L953.5 496.7L953.7 495.2L953.8 494.7M956.5 473.3L956.7 471.8L956.9 470.3L957.1 468.8L957.3 467.3L957.4 465.8L957.6 464.3L957.8 462.8L957.8 462.3M960.2 440.4L960.4 438.9L960.6 437.4L960.8 435.9L961 434.4L961.2 432.9L961.3 431.4L961.5 429.9L961.6 429.4M964.6 407.6L964.8 406.2L965.1 404.7L965.3 403.2L965.5 401.7L965.7 400.2L965.9 398.7L966.1 397.2L966.1 396.8M969.1 375.2L969.3 373.8L969.5 372.3L969.8 370.8L970 369.3L970.2 367.8L970.4 366.3L970.6 364.9L970.7 364.4M974 342.8L974.3 341.3L974.5 339.9L974.7 338.4L975 336.9L975.2 335.4L975.5 333.9L975.7 332.5L975.8 332.0M979.7 310.3L980 308.8L980.2 307.4L980.5 305.9L980.8 304.4L981.1 302.9L981.4 301.5L981.6 300L981.7 299.5M985.9 278.9L986.1 277.4L986.4 276L986.7 274.5L987 273L987.3 271.5L987.5 270.1L987.8 268.6L987.9 268.1M991.8 246.4L992.1 244.9L992.4 243.5L992.7 242L993 240.5L993.3 239L993.6 237.6L993.9 236.1L994 235.6M998.5 214.7L998.9 213.3L999.2 211.8L999.6 210.4L1000 208.9L1000.5 207.5L1000.9 206L1001.3 204.6L1001.5 204.1M1008.9 183L1009.4 181.6L1009.9 180.2L1010.4 178.7L1010.9 177.3L1011.4 175.9L1011.8 174.5L1012.3 173.1L1012.5 172.6M1019.2 153.3L1019.7 151.9L1020.2 150.5L1020.8 149.1L1021.4 147.7L1022 146.4L1022.7 145L1023.4 143.7L1023.9 142.8M1049.4 133.7L1049.9 135.1L1050.2 136.6L1050.6 138.1L1051 139.5L1051.4 140.9L1051.9 142.4L1052.3 143.8L1052.6 144.8M1080.6 219.4L1081.1 220.9L1081.5 222.3L1081.9 223.7L1082.3 225.2L1082.8 226.6L1083.2 228.1L1083.6 229.5L1083.7 230.0M1089.6 251.9L1090 253.3L1090.4 254.8L1090.7 256.2L1091.1 257.7L1091.5 259.1L1091.9 260.6L1092.3 262L1092.4 262.5M1097.5 283L1097.9 284.4L1098.2 285.9L1098.6 287.3L1098.9 288.8L1099.3 290.2L1099.6 291.7L1100 293.2L1100.1 293.6M1105.1 314.5L1105.4 316L1105.7 317.5L1106.1 318.9L1106.4 320.4L1106.7 321.8L1107.1 323.3L1107.4 324.8L1107.5 325.3M1112.3 346.4L1112.6 347.9L1112.9 349.4L1113.3 350.8L1113.6 352.3L1113.9 353.8L1114.3 355.2L1114.6 356.7L1114.7 357.2M1119.6 378.6L1119.9 380L1120.3 381.5L1120.7 382.9L1121 384.4L1121.4 385.8L1121.8 387.3L1122.1 388.7L1122.3 389.2M1128.2 411.1L1128.6 412.5L1129 414L1129.3 415.4L1129.7 416.9L1130.1 418.3L1130.5 419.8L1130.9 421.2L1131 421.7M1136.5 442.7L1136.9 444.1L1137.2 445.6L1137.6 447L1138 448.5L1138.4 449.9L1138.8 451.4L1139.2 452.8L1139.4 453.3M1145.5 474.7L1145.9 476.1L1146.3 477.6L1146.7 479L1147 480.5L1147.4 481.9L1147.7 483.4L1148.1 484.9L1148.2 485.3M1153.1 507.1L1153.4 508.5L1153.8 510L1154.2 511.4L1154.5 512.9L1154.9 514.3L1155.3 515.8L1155.7 517.2L1155.8 517.7M1162 539.2L1162.4 540.7L1162.8 542.1L1163.2 543.5L1163.6 545L1164 546.4L1164.4 547.9L1164.8 549.3L1164.9 549.8M1170.7 571.1L1171.1 572.6L1171.6 574L1172 575.4L1172.5 576.9L1172.9 578.3L1173.4 579.7L1173.9 581.1L1174.1 581.6M1180.9 599.5L1181.4 600.9L1182 602.3L1182.5 603.8L1183 605.2L1183.5 606.6L1184 608L1184.4 609.4L1184.6 609.9M1191.3 629.8L1191.8 631.2L1192.3 632.6L1192.8 634.1L1193.3 635.5L1193.8 636.9L1194.3 638.3L1194.8 639.7L1195 640.2M1202.9 660.7L1203.5 662.1L1204 663.5L1204.5 664.9L1205.1 666.3L1205.6 667.7L1206.1 669.1L1206.6 670.5L1206.8 671.0M1214.3 691.4L1214.8 692.8L1215.4 694.2L1215.9 695.6L1216.5 697L1217 698.4L1217.6 699.7L1218.2 701.1L1218.4 701.6M1226.4 720.5L1227 721.9L1227.6 723.3L1228.2 724.7L1228.8 726.1L1229.4 727.4L1230 728.8L1230.6 730.2L1230.8 730.7M1239.6 751.4L1240.2 752.8L1240.9 754.1L1241.5 755.5L1242.1 756.9L1242.7 758.2L1243.4 759.6L1244 760.9L1244.2 761.4M1253.6 780.6L1254.3 782L1255 783.3L1255.7 784.6L1256.4 785.9L1257.2 787.3L1257.9 788.6L1258.6 789.9L1258.9 790.3M1270.1 808.6L1270.9 809.9L1271.7 811.2L1272.5 812.5L1273.3 813.7L1274.1 815L1274.9 816.3L1275.7 817.5L1275.9 817.9M1285.7 832.8L1286.6 834.1L1287.4 835.3L1288.2 836.6L1289.1 837.8L1289.9 839.1L1290.7 840.3L1291.6 841.6L1291.8 842.0M1302.9 858.4L1303.8 859.6L1304.6 860.9L1305.5 862.1L1306.4 863.3L1307.3 864.5L1308.2 865.7L1309 866.9L1309.3 867.4M1321.3 883.1L1322.3 884.3L1323.3 885.4L1324.2 886.5L1325.2 887.7L1326.2 888.8L1327.2 889.9L1328.2 891L1328.5 891.4M1342.9 906.1L1344 907.1L1345.1 908.2L1346.2 909.1L1347.4 910.1L1348.5 911.1L1349.7 912.1L1350.8 913L1351.2 913.3M1368.6 925.8L1369.8 926.6L1371.1 927.5L1372.3 928.3L1373.5 929.2L1374.7 930.1L1375.9 930.9L1377.2 931.8L1377.6 932.1M1397.1 945.7L1398.4 946.5L1399.7 947.3L1401 948L1402.3 948.7L1403.7 949.5L1405 950.1L1406.3 950.8L1406.8 951.1M1430.4 961.3L1431.8 961.8L1433.2 962.4L1434.6 962.9L1436 963.5L1437.4 964L1438.8 964.6L1440.2 965.1L1440.6 965.3M1462.6 972.8L1464.1 973.2L1465.5 973.6L1466.9 974L1468.4 974.4L1469.8 974.8L1471.3 975.2L1472.7 975.6L1473.2 975.7M1496.6 980.7L1498.1 981L1499.6 981.3L1501 981.6L1502.5 981.9L1504 982.2L1505.4 982.5L1506.9 982.8L1507.4 982.9M1529.8 987.7L1531.3 988L1532.8 988.3L1534.2 988.6L1535.7 988.9L1537.2 989.2L1538.6 989.5L1540.1 989.9L1540.6 990.0M1070.6 188.3L1073.8 199.7M804 998.5L812.8 988.3M1033.2 143.5L1036 138.3L1039 143.0M1056.3 165L1057.5 169L1059.5 172.5L1062.5 175.0"/>
</g></g>
<g stroke="#000" stroke-width="8" fill="none" stroke-linecap="butt">
<path d="M211 54 H1563 M227 998 H1579 M231 54 V1018 M1559 50 V1018"/>
<path d="M231.0 998 V1018M325.9 998 V1008M420.7 998 V1018M515.6 998 V1008M610.4 998 V1018M705.3 998 V1008M800.1 998 V1018M895.0 998 V1008M989.9 998 V1018M1084.7 998 V1008M1179.6 998 V1018M1274.4 998 V1008M1369.3 998 V1018M1464.1 998 V1008M1559.0 998 V1018M231 998.0 H211M231 880.0 H221M231 762.0 H211M231 644.0 H221M231 526.0 H211M231 408.0 H221M231 290.0 H211M231 172.0 H221M231 54.0 H211M1559 998.0 H1579M1559 911.4 H1569M1559 824.8 H1579M1559 738.2 H1569M1559 651.6 H1579M1559 565.0 H1569M1559 478.4 H1579M1559 391.8 H1569M1559 305.2 H1579M1559 218.6 H1569M1559 132.0 H1579"/>
</g>
<g font-size="64">
<text x="231.5" y="1079.5" text-anchor="middle">300</text>
<text x="421.2" y="1079.5" text-anchor="middle">400</text>
<text x="610.9" y="1079.5" text-anchor="middle">500</text>
<text x="800.6" y="1079.5" text-anchor="middle">600</text>
<text x="990.4" y="1079.5" text-anchor="middle">700</text>
<text x="1180.1" y="1079.5" text-anchor="middle">800</text>
<text x="1369.8" y="1079.5" text-anchor="middle">900</text>
<text x="1559.5" y="1079.5" text-anchor="middle">1000</text>
<text x="198" y="1018.0" text-anchor="end">0</text>
<text x="198" y="782.0" text-anchor="end">20</text>
<text x="198" y="546.0" text-anchor="end">40</text>
<text x="198" y="310.0" text-anchor="end">60</text>
<text x="198" y="74.0" text-anchor="end">80</text>
<text x="1593" y="1017.0">0</text>
<text x="1593" y="843.8">0.2</text>
<text x="1593" y="670.6">0.4</text>
<text x="1593" y="497.4">0.6</text>
<text x="1593" y="324.2">0.8</text>
<text x="1593" y="151.0">1.0</text>
</g>
<g stroke-width="8" fill="none">
<path stroke="#ff0000" d="M272 121 H382"/>
<path stroke="#008000" d="M272 186 H382"/>
<path stroke="#ff00ff" d="M272 251 H382"/>
<path stroke="#808080" d="M272 316 H382"/>
</g>
<g font-size="52">
<text x="397" y="137">1b</text>
<text x="397" y="202">2</text>
<text x="397" y="267">3</text>
<text x="397" y="332">7</text>
</g>
<text transform="rotate(-90) translate(-688.06 85.09) scale(1.1640 1.0125)" font-size="66" class="gk">ε</text>
<text transform="rotate(-90) translate(-647.66 82.04) scale(1.1192 0.9800)" font-size="66" class="it">/</text>
<text transform="rotate(-90) translate(-610.29 83.50) scale(0.9224 1.0326)" font-size="66">10</text>
<text transform="rotate(-90) translate(-540.50 52.80) scale(0.9045 1.0290)" font-size="45">3</text>
<text transform="rotate(-90) translate(-499.52 82.90) scale(0.9298 1.0217)" font-size="66">M</text>
<text transform="rotate(-90) translate(-447.80 52.80) scale(0.9500 1.0000)" font-size="45">-1</text>
<text transform="rotate(-90) translate(-391.44 83.30) scale(0.9455 1.0000)" font-size="66">cm</text>
<text transform="rotate(-90) translate(-300.70 52.80) scale(0.9500 1.0000)" font-size="45">-1</text>
<text transform="rotate(-90) translate(-627.45 1827.40) scale(1.0500 1.0522)" font-size="66" class="it">I</text>
<text transform="rotate(-90) translate(-610.27 1846.80) scale(0.9226 1.0097)" font-size="45">PL</text>
<text transform="rotate(-90) translate(-554.30 1825.46) scale(0.6500 0.9680)" font-size="66" class="it">/</text>
<text transform="rotate(-90) translate(-521.60 1828.00) scale(0.9523 1.0314)" font-size="66">a.u.</text>
<text transform="translate(783.56 1181.00) scale(1.2812 1.0039) skewX(-7)" font-size="72" class="gk">λ</text>
<text transform="translate(836.70 1180.00) scale(0.9000 1.0020)" font-size="68" class="it">/</text>
<text transform="translate(877.04 1178.00) scale(1.0112 0.9619)" font-size="78">nm</text>
</svg></body></html>
